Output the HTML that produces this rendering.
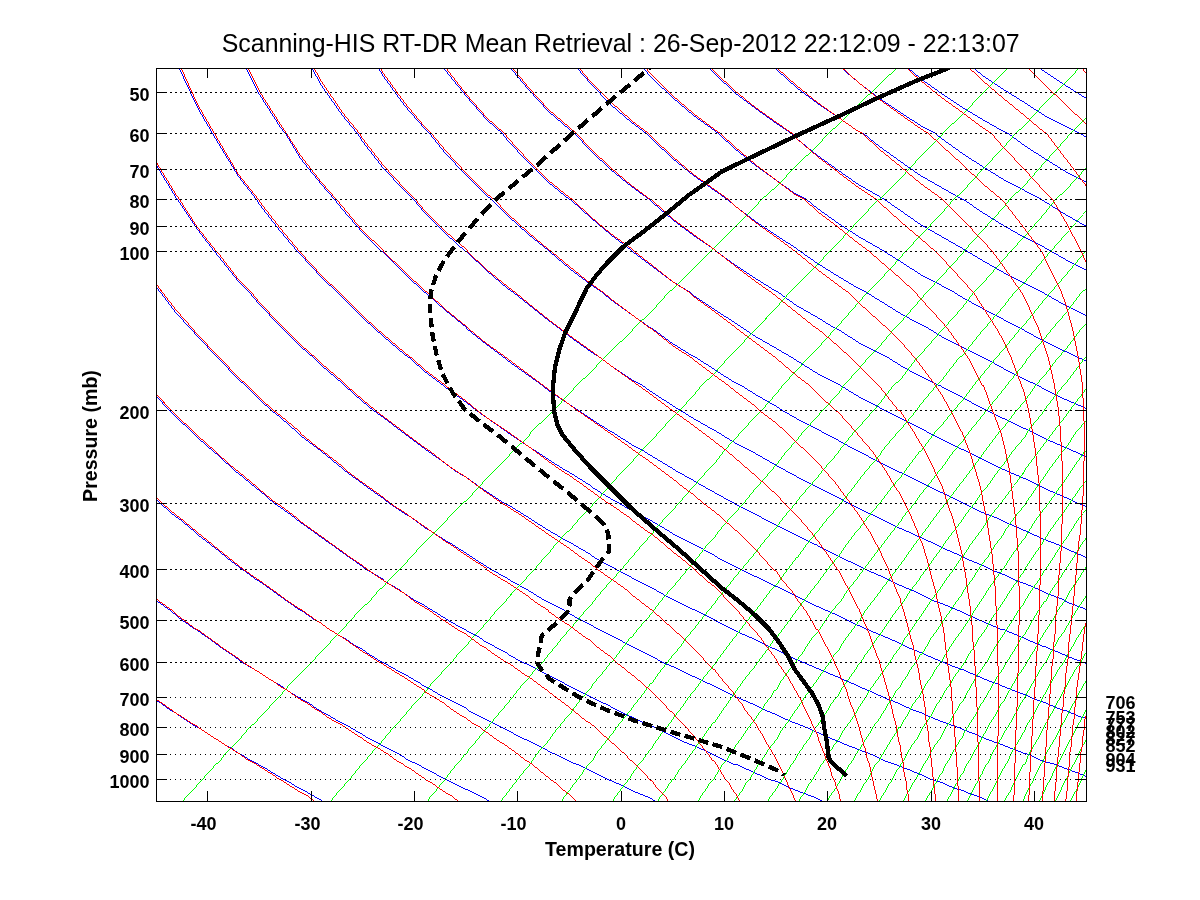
<!DOCTYPE html>
<html lang="en"><head><meta charset="utf-8"><title>Scanning-HIS RT-DR Mean Retrieval</title>
<style>html,body{margin:0;padding:0;background:#fff}body{width:1200px;height:900px;position:relative;overflow:hidden}</style>
</head><body>
<svg width="1200" height="900" viewBox="0 0 1200 900" style="position:absolute;left:0;top:0">
<defs><clipPath id="ax"><rect x="157" y="69" width="929" height="732"/></clipPath></defs>
<g clip-path="url(#ax)" stroke="none" shape-rendering="crispEdges">
<path fill="#0000ff" d="M156,700h1v1h-1ZM322,801h1v1h-1ZM156.5,700 161.5,703 170.5,710 176.5,713 180.5,716 189.5,722 197.5,727 198.5,727 207.5,733 216.5,739 218.5,740 224.5,744 233.5,749 238.5,753 241.5,754 250.5,760 258.5,764 259.5,765 267.5,769 275.5,774 280.5,777 283.5,779 291.5,783 299.5,788 300.5,788 307.5,792 314.5,796 321.5,800 322.5,801 322.5,802 321.5,801 314.5,797 307.5,793 300.5,789 299.5,789 291.5,784 283.5,780 280.5,778 275.5,775 267.5,770 259.5,766 258.5,765 250.5,761 241.5,755 238.5,754 233.5,750 224.5,745 218.5,741 216.5,740 207.5,734 198.5,728 197.5,728 189.5,723 180.5,717 176.5,714 170.5,711 161.5,704 156.5,701ZM156,600h1v1h-1ZM489,801h1v1h-1ZM156.5,600 157.5,601 170.5,610 176.5,615 182.5,620 195.5,629 197.5,630 207.5,637 218.5,645 219.5,646 231.5,654 238.5,659 242.5,662 254.5,669 259.5,672 265.5,676 276.5,683 280.5,685 287.5,690 298.5,697 300.5,698 309.5,703 319.5,710 321.5,711 330.5,716 340.5,722 342.5,723 350.5,727 360.5,733 362.5,734 370.5,739 380.5,744 383.5,746 389.5,749 399.5,754 404.5,757 408.5,760 418.5,764 424.5,768 427.5,769 436.5,774 445.5,779 454.5,783 463.5,788 466.5,789 472.5,792 480.5,796 486.5,799 489.5,801 489.5,802 486.5,800 480.5,797 472.5,793 466.5,790 463.5,789 454.5,784 445.5,780 436.5,775 427.5,770 424.5,769 418.5,765 408.5,761 404.5,758 399.5,755 389.5,750 383.5,747 380.5,745 370.5,740 362.5,735 360.5,734 350.5,728 342.5,724 340.5,723 330.5,717 321.5,712 319.5,711 309.5,704 300.5,699 298.5,698 287.5,691 280.5,686 276.5,684 265.5,677 259.5,673 254.5,670 242.5,663 238.5,660 231.5,655 219.5,647 218.5,646 207.5,638 197.5,631 195.5,630 182.5,621 176.5,616 170.5,611 157.5,602 156.5,601ZM156,499h1v1h-1ZM655,801h1v1h-1ZM156.5,499 160.5,503 176.5,517 177.5,517 194.5,531 197.5,534 210.5,544 218.5,550 226.5,557 238.5,566 242.5,569 257.5,580 259.5,581 272.5,590 280.5,596 287.5,601 300.5,610 301.5,610 315.5,620 321.5,623 329.5,629 342.5,637 343.5,637 356.5,646 362.5,649 369.5,654 382.5,662 383.5,662 395.5,669 404.5,674 408.5,676 420.5,683 424.5,686 432.5,690 444.5,697 445.5,697 456.5,703 466.5,708 468.5,710 479.5,716 486.5,719 491.5,722 502.5,727 507.5,730 513.5,733 524.5,739 528.5,740 535.5,744 546.5,749 548.5,751 556.5,754 567.5,760 569.5,761 577.5,764 587.5,769 590.5,770 597.5,774 607.5,779 610.5,780 617.5,783 627.5,788 631.5,790 636.5,792 646.5,796 652.5,799 655.5,801 655.5,802 652.5,800 646.5,797 636.5,793 631.5,791 627.5,789 617.5,784 610.5,781 607.5,780 597.5,775 590.5,771 587.5,770 577.5,765 569.5,762 567.5,761 556.5,755 548.5,752 546.5,750 535.5,745 528.5,741 524.5,740 513.5,734 507.5,731 502.5,728 491.5,723 486.5,720 479.5,717 468.5,711 466.5,709 456.5,704 445.5,698 444.5,698 432.5,691 424.5,687 420.5,684 408.5,677 404.5,675 395.5,670 383.5,663 382.5,663 369.5,655 362.5,650 356.5,647 343.5,638 342.5,638 329.5,630 321.5,624 315.5,621 301.5,611 300.5,611 287.5,602 280.5,597 272.5,591 259.5,582 257.5,581 242.5,570 238.5,567 226.5,558 218.5,551 210.5,545 197.5,535 194.5,532 177.5,518 176.5,518 160.5,504 156.5,500ZM156,396h1v1h-1ZM169,410h1v1h-1ZM383,579h1v1h-1ZM383,580h1v1h-1ZM822,801h1v1h-1ZM157,396.5 170,410.5 169,410.5 156,396.5ZM169.5,410 176.5,417 191.5,431 197.5,437 213.5,451 218.5,455 234.5,470 238.5,473 255.5,487 259.5,490 274.5,503 280.5,507 294.5,517 300.5,522 313.5,531 321.5,537 331.5,544 342.5,552 349.5,557 362.5,566 366.5,569 383.5,579 383.5,580 366.5,570 362.5,567 349.5,558 342.5,553 331.5,545 321.5,538 313.5,532 300.5,523 294.5,518 280.5,508 274.5,504 259.5,491 255.5,488 238.5,474 234.5,471 218.5,456 213.5,452 197.5,438 191.5,432 176.5,418 169.5,411ZM384,579.5 384,580.5 383,580.5 383,579.5ZM383.5,580 400.5,590 404.5,593 416.5,601 424.5,605 432.5,610 445.5,618 448.5,620 464.5,629 466.5,630 479.5,637 486.5,642 494.5,646 507.5,653 508.5,654 522.5,662 528.5,664 537.5,669 548.5,675 550.5,676 564.5,683 569.5,686 577.5,690 590.5,696 591.5,697 604.5,703 610.5,706 617.5,710 629.5,716 631.5,716 642.5,722 652.5,726 654.5,727 666.5,733 672.5,736 678.5,739 690.5,744 693.5,745 702.5,749 713.5,754 714.5,755 725.5,760 734.5,764 736.5,764 747.5,769 755.5,773 758.5,774 769.5,779 776.5,781 780.5,783 791.5,788 796.5,790 801.5,792 812.5,796 817.5,798 822.5,801 822.5,802 817.5,799 812.5,797 801.5,793 796.5,791 791.5,789 780.5,784 776.5,782 769.5,780 758.5,775 755.5,774 747.5,770 736.5,765 734.5,765 725.5,761 714.5,756 713.5,755 702.5,750 693.5,746 690.5,745 678.5,740 672.5,737 666.5,734 654.5,728 652.5,727 642.5,723 631.5,717 629.5,717 617.5,711 610.5,707 604.5,704 591.5,698 590.5,697 577.5,691 569.5,687 564.5,684 550.5,677 548.5,676 537.5,670 528.5,665 522.5,663 508.5,655 507.5,654 494.5,647 486.5,643 479.5,638 466.5,631 464.5,630 448.5,621 445.5,619 432.5,611 424.5,606 416.5,602 404.5,594 400.5,591 383.5,581ZM156,287h1v1h-1ZM238,379h1v1h-1ZM989,801h1v1h-1ZM157,287.5 161,292.5 177,313.5 191,328.5 198,336.5 219,358.5 239,379.5 238,379.5 218,358.5 197,336.5 190,328.5 176,313.5 160,292.5 156,287.5ZM238.5,379 245.5,385 259.5,399 271.5,410 280.5,417 296.5,431 300.5,435 321.5,451 342.5,468 344.5,470 362.5,483 367.5,487 383.5,498 389.5,503 404.5,513 411.5,517 424.5,527 431.5,531 445.5,540 452.5,544 466.5,553 472.5,557 486.5,566 491.5,569 507.5,578 510.5,580 528.5,590 546.5,601 548.5,602 564.5,610 569.5,613 581.5,620 590.5,624 598.5,629 610.5,635 615.5,637 631.5,646 647.5,654 652.5,656 662.5,662 672.5,666 678.5,669 693.5,676 708.5,683 714.5,686 723.5,690 734.5,696 737.5,697 751.5,703 755.5,705 765.5,710 776.5,714 779.5,716 793.5,722 796.5,723 806.5,727 817.5,732 819.5,733 833.5,739 838.5,741 845.5,744 858.5,749 871.5,754 879.5,758 883.5,760 895.5,764 900.5,766 908.5,769 920.5,774 931.5,779 941.5,782 943.5,783 955.5,788 962.5,790 966.5,792 978.5,796 982.5,798 989.5,801 989.5,802 982.5,799 978.5,797 966.5,793 962.5,791 955.5,789 943.5,784 941.5,783 931.5,780 920.5,775 908.5,770 900.5,767 895.5,765 883.5,761 879.5,759 871.5,755 858.5,750 845.5,745 838.5,742 833.5,740 819.5,734 817.5,733 806.5,728 796.5,724 793.5,723 779.5,717 776.5,715 765.5,711 755.5,706 751.5,704 737.5,698 734.5,697 723.5,691 714.5,687 708.5,684 693.5,677 678.5,670 672.5,667 662.5,663 652.5,657 647.5,655 631.5,647 615.5,638 610.5,636 598.5,630 590.5,625 581.5,621 569.5,614 564.5,611 548.5,603 546.5,602 528.5,591 510.5,581 507.5,579 491.5,570 486.5,567 472.5,558 466.5,554 452.5,545 445.5,541 431.5,532 424.5,528 411.5,518 404.5,514 389.5,504 383.5,499 367.5,488 362.5,484 344.5,471 342.5,469 321.5,452 300.5,436 296.5,432 280.5,418 271.5,411 259.5,400 245.5,386 238.5,380ZM156,165h1v1h-1ZM176,198h1v1h-1ZM177,199h1v1h-1ZM238,281h1v1h-1ZM249,292h1v1h-1ZM280,326h1v1h-1ZM714,619h1v1h-1ZM714,620h1v1h-1ZM1086,776h1v1h-1ZM157,165.5 177,198.5 176,198.5 156,165.5ZM176.5,198 177.5,199 177.5,200 176.5,199ZM178,199.5 198,229.5 215,251.5 219,256.5 239,281.5 238,281.5 218,256.5 214,251.5 197,229.5 177,199.5ZM238.5,281 249.5,292 249.5,293 238.5,282ZM250,292.5 260,304.5 281,326.5 280,326.5 259,304.5 249,292.5ZM280.5,326 282.5,328 300.5,346 314.5,358 321.5,365 342.5,383 344.5,385 362.5,401 373.5,410 383.5,417 401.5,431 404.5,433 424.5,448 428.5,451 445.5,463 454.5,470 466.5,477 480.5,487 486.5,491 504.5,503 507.5,504 528.5,517 548.5,530 550.5,531 569.5,542 573.5,544 590.5,554 594.5,557 610.5,566 616.5,569 631.5,577 636.5,580 652.5,588 656.5,590 672.5,599 676.5,601 693.5,609 695.5,610 714.5,619 714.5,620 695.5,611 693.5,610 676.5,602 672.5,600 656.5,591 652.5,589 636.5,581 631.5,578 616.5,570 610.5,567 594.5,558 590.5,555 573.5,545 569.5,543 550.5,532 548.5,531 528.5,518 507.5,505 504.5,504 486.5,492 480.5,488 466.5,478 454.5,471 445.5,464 428.5,452 424.5,449 404.5,434 401.5,432 383.5,418 373.5,411 362.5,402 344.5,386 342.5,384 321.5,366 314.5,359 300.5,347 282.5,329 280.5,327ZM715,619.5 715,620.5 714,620.5 714,619.5ZM714.5,620 732.5,629 734.5,630 750.5,637 755.5,639 768.5,646 776.5,649 785.5,654 796.5,659 803.5,662 817.5,668 819.5,669 836.5,676 838.5,677 852.5,683 858.5,686 868.5,690 879.5,695 883.5,697 899.5,703 900.5,704 914.5,710 920.5,712 929.5,716 941.5,721 944.5,722 958.5,727 962.5,729 973.5,733 982.5,737 987.5,739 1001.5,744 1003.5,745 1014.5,749 1024.5,753 1028.5,754 1041.5,760 1044.5,761 1055.5,764 1065.5,768 1068.5,769 1081.5,774 1086.5,776 1086.5,777 1081.5,775 1068.5,770 1065.5,769 1055.5,765 1044.5,762 1041.5,761 1028.5,755 1024.5,754 1014.5,750 1003.5,746 1001.5,745 987.5,740 982.5,738 973.5,734 962.5,730 958.5,728 944.5,723 941.5,722 929.5,717 920.5,713 914.5,711 900.5,705 899.5,704 883.5,698 879.5,696 868.5,691 858.5,687 852.5,684 838.5,678 836.5,677 819.5,670 817.5,669 803.5,663 796.5,660 785.5,655 776.5,650 768.5,647 755.5,640 750.5,638 734.5,631 732.5,630 714.5,621ZM169,40h1v1h-1ZM297,251h1v1h-1ZM300,254h1v1h-1ZM321,277h1v1h-1ZM1086,718h1v1h-1ZM170,40.5 177,62.5 198,107.5 213,133.5 219,143.5 239,176.5 257,199.5 260,204.5 281,231.5 298,251.5 297,251.5 280,231.5 259,204.5 256,199.5 238,176.5 218,143.5 212,133.5 197,107.5 176,62.5 169,40.5ZM297.5,251 300.5,254 300.5,255 297.5,252ZM301,254.5 322,277.5 321,277.5 300,254.5ZM321.5,277 337.5,292 342.5,297 362.5,317 374.5,328 383.5,336 404.5,354 410.5,358 424.5,371 443.5,385 445.5,387 466.5,402 476.5,410 486.5,417 506.5,431 507.5,432 528.5,446 536.5,451 548.5,459 565.5,470 569.5,472 590.5,485 592.5,487 610.5,498 619.5,503 631.5,510 644.5,517 652.5,521 669.5,531 672.5,533 693.5,544 694.5,544 714.5,555 717.5,557 734.5,566 740.5,569 755.5,576 763.5,580 776.5,586 784.5,590 796.5,596 806.5,601 817.5,606 826.5,610 838.5,615 847.5,620 858.5,625 867.5,629 879.5,634 886.5,637 900.5,643 905.5,646 920.5,652 924.5,654 941.5,661 943.5,662 961.5,669 962.5,669 978.5,676 982.5,678 996.5,683 1003.5,686 1013.5,690 1024.5,694 1030.5,697 1044.5,702 1046.5,703 1063.5,710 1065.5,710 1079.5,716 1086.5,718 1086.5,719 1079.5,717 1065.5,711 1063.5,711 1046.5,704 1044.5,703 1030.5,698 1024.5,695 1013.5,691 1003.5,687 996.5,684 982.5,679 978.5,677 962.5,670 961.5,670 943.5,663 941.5,662 924.5,655 920.5,653 905.5,647 900.5,644 886.5,638 879.5,635 867.5,630 858.5,626 847.5,621 838.5,616 826.5,611 817.5,607 806.5,602 796.5,597 784.5,591 776.5,587 763.5,581 755.5,577 740.5,570 734.5,567 717.5,558 714.5,556 694.5,545 693.5,545 672.5,534 669.5,532 652.5,522 644.5,518 631.5,511 619.5,504 610.5,499 592.5,488 590.5,486 569.5,473 565.5,471 548.5,460 536.5,452 528.5,447 507.5,433 506.5,432 486.5,418 476.5,411 466.5,403 445.5,388 443.5,386 424.5,372 410.5,359 404.5,355 383.5,337 374.5,329 362.5,318 342.5,298 337.5,293 321.5,278ZM238,53h1v1h-1ZM362,232h1v1h-1ZM466,327h1v1h-1ZM466,328h1v1h-1ZM1086,663h1v1h-1ZM239,53.5 260,94.5 281,127.5 286,133.5 301,158.5 322,184.5 335,199.5 343,209.5 363,232.5 362,232.5 342,209.5 334,199.5 321,184.5 300,158.5 285,133.5 280,127.5 259,94.5 238,53.5ZM362.5,232 381.5,251 383.5,252 404.5,273 424.5,292 425.5,292 445.5,310 466.5,327 466.5,328 445.5,311 425.5,293 424.5,293 404.5,274 383.5,253 381.5,252 362.5,233ZM467,327.5 467,328.5 466,328.5 466,327.5ZM466.5,328 486.5,344 505.5,358 507.5,360 528.5,375 542.5,385 548.5,390 569.5,404 578.5,410 590.5,418 610.5,431 611.5,431 631.5,444 644.5,451 652.5,456 672.5,468 675.5,470 693.5,480 705.5,487 714.5,492 734.5,503 755.5,514 761.5,517 776.5,525 788.5,531 796.5,535 815.5,544 817.5,545 838.5,556 840.5,557 858.5,565 865.5,569 879.5,575 889.5,580 900.5,585 912.5,590 920.5,594 935.5,601 941.5,603 958.5,610 962.5,612 980.5,620 982.5,621 1001.5,629 1003.5,629 1022.5,637 1024.5,638 1043.5,646 1044.5,646 1063.5,654 1065.5,655 1083.5,662 1086.5,663 1086.5,664 1083.5,663 1065.5,656 1063.5,655 1044.5,647 1043.5,647 1024.5,639 1022.5,638 1003.5,630 1001.5,630 982.5,622 980.5,621 962.5,613 958.5,611 941.5,604 935.5,602 920.5,595 912.5,591 900.5,586 889.5,581 879.5,576 865.5,570 858.5,566 840.5,558 838.5,557 817.5,546 815.5,545 796.5,536 788.5,532 776.5,526 761.5,518 755.5,515 734.5,504 714.5,493 705.5,488 693.5,481 675.5,471 672.5,469 652.5,457 644.5,452 631.5,445 611.5,432 610.5,432 590.5,419 578.5,411 569.5,405 548.5,391 542.5,386 528.5,376 507.5,361 505.5,359 486.5,345 466.5,329ZM300,47h1v1h-1ZM404,190h1v1h-1ZM413,199h1v1h-1ZM424,212h1v1h-1ZM1065,600h1v1h-1ZM1065,601h1v1h-1ZM1086,609h1v1h-1ZM301,47.5 322,85.5 343,115.5 358,133.5 363,141.5 384,168.5 405,190.5 404,190.5 383,168.5 362,141.5 357,133.5 342,115.5 321,85.5 300,47.5ZM404.5,190 413.5,199 413.5,200 404.5,191ZM414,199.5 425,212.5 424,212.5 413,199.5ZM424.5,212 445.5,233 465.5,251 466.5,251 486.5,270 507.5,288 513.5,292 528.5,304 548.5,320 559.5,328 569.5,336 590.5,351 601.5,358 610.5,365 631.5,379 642.5,385 652.5,392 672.5,405 680.5,410 693.5,418 714.5,430 716.5,431 734.5,442 751.5,451 755.5,453 776.5,465 785.5,470 796.5,476 817.5,487 838.5,497 848.5,503 858.5,508 878.5,517 879.5,518 900.5,528 907.5,531 920.5,537 936.5,544 941.5,547 962.5,556 963.5,557 982.5,565 990.5,569 1003.5,574 1015.5,580 1024.5,583 1041.5,590 1044.5,592 1065.5,600 1065.5,601 1044.5,593 1041.5,591 1024.5,584 1015.5,581 1003.5,575 990.5,570 982.5,566 963.5,558 962.5,557 941.5,548 936.5,545 920.5,538 907.5,532 900.5,529 879.5,519 878.5,518 858.5,509 848.5,504 838.5,498 817.5,488 796.5,477 785.5,471 776.5,466 755.5,454 751.5,452 734.5,443 716.5,432 714.5,431 693.5,419 680.5,411 672.5,406 652.5,393 642.5,386 631.5,380 610.5,366 601.5,359 590.5,352 569.5,337 559.5,329 548.5,321 528.5,305 513.5,293 507.5,289 486.5,271 466.5,252 465.5,252 445.5,234 424.5,213ZM1066,600.5 1066,601.5 1065,601.5 1065,600.5ZM1065.5,601 1086.5,609 1086.5,610 1065.5,602ZM362,41h1v1h-1ZM424,128h1v1h-1ZM429,133h1v1h-1ZM466,175h1v1h-1ZM1086,557h1v1h-1ZM363,41.5 384,76.5 405,105.5 425,128.5 424,128.5 404,105.5 383,76.5 362,41.5ZM424.5,128 429.5,133 429.5,134 424.5,129ZM430,133.5 446,153.5 467,175.5 466,175.5 445,153.5 429,133.5ZM466.5,175 486.5,195 491.5,199 507.5,215 528.5,234 548.5,250 549.5,251 569.5,268 590.5,284 602.5,292 610.5,299 631.5,314 651.5,328 652.5,328 672.5,343 693.5,356 697.5,358 714.5,369 734.5,382 741.5,385 755.5,394 776.5,406 782.5,410 796.5,418 817.5,429 821.5,431 838.5,440 858.5,451 859.5,451 879.5,462 895.5,470 900.5,472 920.5,482 930.5,487 941.5,492 962.5,502 963.5,503 982.5,512 995.5,517 1003.5,521 1024.5,530 1026.5,531 1044.5,539 1057.5,544 1065.5,548 1086.5,557 1086.5,558 1065.5,549 1057.5,545 1044.5,540 1026.5,532 1024.5,531 1003.5,522 995.5,518 982.5,513 963.5,504 962.5,503 941.5,493 930.5,488 920.5,483 900.5,473 895.5,471 879.5,463 859.5,452 858.5,452 838.5,441 821.5,432 817.5,430 796.5,419 782.5,411 776.5,407 755.5,395 741.5,386 734.5,383 714.5,370 697.5,359 693.5,357 672.5,344 652.5,329 651.5,329 631.5,315 610.5,300 602.5,293 590.5,285 569.5,269 549.5,252 548.5,251 528.5,235 507.5,216 491.5,200 486.5,196 466.5,176ZM426,40h1v1h-1ZM486,119h1v1h-1ZM502,133h1v1h-1ZM528,162h1v1h-1ZM1086,506h1v1h-1ZM427,40.5 446,70.5 467,96.5 487,119.5 486,119.5 466,96.5 445,70.5 426,40.5ZM486.5,119 502.5,133 502.5,134 486.5,120ZM503,133.5 508,140.5 529,162.5 528,162.5 507,140.5 502,133.5ZM528.5,162 548.5,182 569.5,199 570.5,199 590.5,217 610.5,234 631.5,250 632.5,251 652.5,266 672.5,281 690.5,292 693.5,295 714.5,309 734.5,322 743.5,328 755.5,336 776.5,348 793.5,358 796.5,360 817.5,373 838.5,384 840.5,385 858.5,396 879.5,407 884.5,410 900.5,418 920.5,428 926.5,431 941.5,439 962.5,449 967.5,451 982.5,459 1003.5,469 1005.5,470 1024.5,478 1042.5,487 1044.5,488 1065.5,497 1078.5,503 1086.5,506 1086.5,507 1078.5,504 1065.5,498 1044.5,489 1042.5,488 1024.5,479 1005.5,471 1003.5,470 982.5,460 967.5,452 962.5,450 941.5,440 926.5,432 920.5,429 900.5,419 884.5,411 879.5,408 858.5,397 840.5,386 838.5,385 817.5,374 796.5,361 793.5,359 776.5,349 755.5,337 743.5,329 734.5,323 714.5,310 693.5,296 690.5,293 672.5,282 652.5,267 632.5,252 631.5,251 610.5,235 590.5,218 570.5,200 569.5,200 548.5,183 528.5,163ZM490,40h1v1h-1ZM548,111h1v1h-1ZM574,133h1v1h-1ZM590,150h1v1h-1ZM1086,457h1v1h-1ZM491,40.5 508,64.5 529,89.5 549,111.5 548,111.5 528,89.5 507,64.5 490,40.5ZM548.5,111 569.5,129 574.5,133 574.5,134 569.5,130 548.5,112ZM575,133.5 591,150.5 590,150.5 574,133.5ZM590.5,150 610.5,169 631.5,186 649.5,199 652.5,202 672.5,219 693.5,235 714.5,249 716.5,251 734.5,264 755.5,278 776.5,291 778.5,292 796.5,305 817.5,317 835.5,328 838.5,329 858.5,342 879.5,353 889.5,358 900.5,365 920.5,376 939.5,385 941.5,386 962.5,397 982.5,408 986.5,410 1003.5,418 1024.5,428 1031.5,431 1044.5,438 1065.5,447 1074.5,451 1086.5,457 1086.5,458 1074.5,452 1065.5,448 1044.5,439 1031.5,432 1024.5,429 1003.5,419 986.5,411 982.5,409 962.5,398 941.5,387 939.5,386 920.5,377 900.5,366 889.5,359 879.5,354 858.5,343 838.5,330 835.5,329 817.5,318 796.5,306 778.5,293 776.5,292 755.5,279 734.5,265 716.5,252 714.5,250 693.5,236 672.5,220 652.5,203 649.5,200 631.5,187 610.5,170 590.5,151ZM569,59h1v1h-1ZM610,104h1v1h-1ZM1086,408h1v1h-1ZM570,59.5 591,83.5 611,104.5 610,104.5 590,83.5 569,59.5ZM610.5,104 631.5,122 646.5,133 652.5,139 672.5,158 693.5,175 714.5,190 727.5,199 734.5,205 755.5,221 776.5,235 796.5,248 800.5,251 817.5,263 838.5,276 858.5,288 866.5,292 879.5,300 900.5,313 920.5,324 928.5,328 941.5,336 962.5,347 982.5,357 985.5,358 1003.5,368 1024.5,379 1038.5,385 1044.5,389 1065.5,399 1086.5,408 1086.5,409 1065.5,400 1044.5,390 1038.5,386 1024.5,380 1003.5,369 985.5,359 982.5,358 962.5,348 941.5,337 928.5,329 920.5,325 900.5,314 879.5,301 866.5,293 858.5,289 838.5,277 817.5,264 800.5,252 796.5,249 776.5,236 755.5,222 734.5,206 727.5,200 714.5,191 693.5,176 672.5,159 652.5,140 646.5,134 631.5,123 610.5,105ZM631,55h1v1h-1ZM652,78h1v1h-1ZM1086,361h1v1h-1ZM632,55.5 653,78.5 652,78.5 631,55.5ZM652.5,78 672.5,97 693.5,115 714.5,130 718.5,133 734.5,148 755.5,165 776.5,180 796.5,194 806.5,199 817.5,208 838.5,223 858.5,236 879.5,248 884.5,251 900.5,261 920.5,274 941.5,285 954.5,292 962.5,297 982.5,308 1003.5,319 1020.5,328 1024.5,330 1044.5,341 1065.5,351 1080.5,358 1086.5,361 1086.5,362 1080.5,359 1065.5,352 1044.5,342 1024.5,331 1020.5,329 1003.5,320 982.5,309 962.5,298 954.5,293 941.5,286 920.5,275 900.5,262 884.5,252 879.5,249 858.5,237 838.5,224 817.5,209 806.5,200 796.5,195 776.5,181 755.5,166 734.5,149 718.5,134 714.5,131 693.5,116 672.5,98 652.5,79ZM693,51h1v1h-1ZM714,73h1v1h-1ZM1086,315h1v1h-1ZM694,51.5 715,73.5 714,73.5 693,51.5ZM714.5,73 734.5,92 755.5,108 776.5,123 791.5,133 796.5,138 817.5,155 838.5,170 858.5,184 879.5,196 884.5,199 900.5,210 920.5,224 941.5,236 962.5,248 967.5,251 982.5,260 1003.5,272 1024.5,283 1043.5,292 1044.5,293 1065.5,305 1086.5,315 1086.5,316 1065.5,306 1044.5,294 1043.5,293 1024.5,284 1003.5,273 982.5,261 967.5,252 962.5,249 941.5,237 920.5,225 900.5,211 884.5,200 879.5,197 858.5,185 838.5,171 817.5,156 796.5,139 791.5,134 776.5,124 755.5,109 734.5,93 714.5,74ZM755,48h1v1h-1ZM1086,270h1v1h-1ZM755.5,48 776.5,69 796.5,87 817.5,103 838.5,117 858.5,131 863.5,133 879.5,146 900.5,161 920.5,175 941.5,187 962.5,199 963.5,199 982.5,212 1003.5,225 1024.5,237 1044.5,247 1051.5,251 1065.5,259 1086.5,270 1086.5,271 1065.5,260 1051.5,252 1044.5,248 1024.5,238 1003.5,226 982.5,213 963.5,200 962.5,200 941.5,188 920.5,176 900.5,162 879.5,147 863.5,134 858.5,132 838.5,118 817.5,104 796.5,88 776.5,70 755.5,49ZM817,45h1v1h-1ZM1086,226h1v1h-1ZM817.5,45 838.5,65 858.5,82 879.5,98 900.5,112 920.5,125 935.5,133 941.5,138 962.5,153 982.5,166 1003.5,179 1024.5,190 1041.5,199 1044.5,201 1065.5,214 1086.5,226 1086.5,227 1065.5,215 1044.5,202 1041.5,200 1024.5,191 1003.5,180 982.5,167 962.5,154 941.5,139 935.5,134 920.5,126 900.5,113 879.5,99 858.5,83 838.5,66 817.5,46ZM900,61h1v1h-1ZM1086,182h1v1h-1ZM900.5,61 920.5,78 941.5,93 962.5,107 982.5,119 1003.5,131 1008.5,133 1024.5,145 1044.5,158 1065.5,171 1086.5,182 1086.5,183 1065.5,172 1044.5,159 1024.5,146 1008.5,134 1003.5,132 982.5,120 962.5,108 941.5,94 920.5,79 900.5,62ZM962,58h1v1h-1ZM1086,137h1v1h-1ZM962.5,58 982.5,75 1003.5,89 1024.5,102 1044.5,115 1065.5,126 1080.5,133 1086.5,137 1086.5,138 1080.5,134 1065.5,127 1044.5,116 1024.5,103 1003.5,90 982.5,76 962.5,59ZM1024,56h1v1h-1ZM1086,98h1v1h-1ZM1024.5,56 1044.5,71 1065.5,85 1086.5,98 1086.5,99 1065.5,86 1044.5,72 1024.5,57Z"/>
<path fill="#00ff00" d="M920,44h1v1h-1ZM828,133h1v1h-1ZM817,145h1v1h-1ZM796,165h1v1h-1ZM776,186h1v1h-1ZM761,199h1v1h-1ZM755,206h1v1h-1ZM668,292h1v1h-1ZM652,310h1v1h-1ZM633,328h1v1h-1ZM631,331h1v1h-1ZM603,358h1v1h-1ZM590,372h1v1h-1ZM576,385h1v1h-1ZM553,410h1v1h-1ZM531,431h1v1h-1ZM528,436h1v1h-1ZM512,451h1v1h-1ZM507,457h1v1h-1ZM486,478h1v1h-1ZM466,500h1v1h-1ZM448,517h1v1h-1ZM445,521h1v1h-1ZM422,544h1v1h-1ZM404,564h1v1h-1ZM388,580h1v1h-1ZM383,586h1v1h-1ZM378,590h1v1h-1ZM369,601h1v1h-1ZM359,610h1v1h-1ZM342,629h1v1h-1ZM334,637h1v1h-1ZM326,646h1v1h-1ZM318,654h1v1h-1ZM311,662h1v1h-1ZM290,683h1v1h-1ZM280,695h1v1h-1ZM272,703h1v1h-1ZM266,710h1v1h-1ZM259,717h1v1h-1ZM255,722h1v1h-1ZM249,727h1v1h-1ZM239,739h1v1h-1ZM224,754h1v1h-1ZM220,760h1v1h-1ZM215,764h1v1h-1ZM211,769h1v1h-1ZM206,774h1v1h-1ZM202,779h1v1h-1ZM197,784h1v1h-1ZM194,788h1v1h-1ZM186,796h1v1h-1ZM182,801h1v1h-1ZM920.5,45 900.5,65 879.5,85 858.5,105 838.5,125 828.5,134 828.5,133 838.5,124 858.5,104 879.5,84 900.5,64 920.5,44ZM829,133.5 818,145.5 817,145.5 828,133.5ZM817.5,146 796.5,166 796.5,165 817.5,145ZM797,165.5 777,186.5 776,186.5 796,165.5ZM776.5,187 761.5,200 761.5,199 776.5,186ZM762,199.5 756,206.5 755,206.5 761,199.5ZM755.5,207 734.5,228 714.5,248 710.5,252 693.5,269 672.5,290 668.5,293 668.5,292 672.5,289 693.5,268 710.5,251 714.5,247 734.5,227 755.5,206ZM669,292.5 653,310.5 652,310.5 668,292.5ZM652.5,311 633.5,329 633.5,328 652.5,310ZM634,328.5 632,331.5 631,331.5 633,328.5ZM631.5,332 610.5,352 603.5,359 603.5,358 610.5,351 631.5,331ZM604,358.5 591,372.5 590,372.5 603,358.5ZM590.5,373 576.5,386 576.5,385 590.5,372ZM577,385.5 570,393.5 554,410.5 553,410.5 569,393.5 576,385.5ZM553.5,411 548.5,416 531.5,432 531.5,431 548.5,415 553.5,410ZM532,431.5 529,436.5 528,436.5 531,431.5ZM528.5,437 512.5,452 512.5,451 528.5,436ZM513,451.5 508,457.5 507,457.5 512,451.5ZM507.5,458 494.5,471 486.5,479 486.5,478 494.5,470 507.5,457ZM487,478.5 479,487.5 467,500.5 466,500.5 478,487.5 486,478.5ZM466.5,501 462.5,504 448.5,518 448.5,517 462.5,503 466.5,500ZM449,517.5 446,521.5 445,521.5 448,517.5ZM445.5,522 435.5,532 424.5,543 422.5,545 422.5,544 424.5,542 435.5,531 445.5,521ZM423,544.5 411,557.5 405,564.5 404,564.5 410,557.5 422,544.5ZM404.5,565 399.5,570 388.5,581 388.5,580 399.5,569 404.5,564ZM389,580.5 384,586.5 383,586.5 388,580.5ZM383.5,587 378.5,591 378.5,590 383.5,586ZM379,590.5 370,601.5 369,601.5 378,590.5ZM369.5,602 362.5,608 359.5,611 359.5,610 362.5,607 369.5,601ZM360,610.5 351,620.5 343,629.5 342,629.5 350,620.5 359,610.5ZM342.5,630 334.5,638 334.5,637 342.5,629ZM335,637.5 327,646.5 326,646.5 334,637.5ZM326.5,647 321.5,652 318.5,655 318.5,654 321.5,651 326.5,646ZM319,654.5 312,662.5 311,662.5 318,654.5ZM311.5,663 304.5,670 300.5,674 297.5,677 290.5,684 290.5,683 297.5,676 300.5,673 304.5,669 311.5,662ZM291,683.5 285,690.5 281,695.5 280,695.5 284,690.5 290,683.5ZM280.5,696 278.5,698 272.5,704 272.5,703 278.5,697 280.5,695ZM273,703.5 267,710.5 266,710.5 272,703.5ZM266.5,711 260.5,717 259.5,718 259.5,717 260.5,716 266.5,710ZM260,717.5 256,722.5 255,722.5 259,717.5ZM255.5,723 249.5,728 249.5,727 255.5,722ZM250,727.5 245,733.5 240,739.5 239,739.5 244,733.5 249,727.5ZM239.5,740 238.5,741 234.5,745 229.5,750 224.5,755 224.5,754 229.5,749 234.5,744 238.5,740 239.5,739ZM225,754.5 221,760.5 220,760.5 224,754.5ZM220.5,761 218.5,763 215.5,765 215.5,764 218.5,762 220.5,760ZM216,764.5 212,769.5 211,769.5 215,764.5ZM211.5,770 206.5,775 206.5,774 211.5,769ZM207,774.5 203,779.5 202,779.5 206,774.5ZM202.5,780 198.5,784 197.5,785 197.5,784 198.5,783 202.5,779ZM198,784.5 195,788.5 194,788.5 197,784.5ZM194.5,789 190.5,793 186.5,797 186.5,796 190.5,792 194.5,788ZM187,796.5 183,801.5 182,801.5 186,796.5ZM1024,50h1v1h-1ZM1003,72h1v1h-1ZM982,93h1v1h-1ZM962,114h1v1h-1ZM942,133h1v1h-1ZM941,135h1v1h-1ZM920,156h1v1h-1ZM900,178h1v1h-1ZM878,199h1v1h-1ZM838,242h1v1h-1ZM829,251h1v1h-1ZM817,264h1v1h-1ZM789,292h1v1h-1ZM756,328h1v1h-1ZM755,329h1v1h-1ZM734,351h1v1h-1ZM727,358h1v1h-1ZM714,373h1v1h-1ZM701,385h1v1h-1ZM679,410h1v1h-1ZM672,417h1v1h-1ZM652,439h1v1h-1ZM640,451h1v1h-1ZM631,462h1v1h-1ZM623,470h1v1h-1ZM590,507h1v1h-1ZM580,517h1v1h-1ZM569,530h1v1h-1ZM567,531h1v1h-1ZM548,553h1v1h-1ZM544,557h1v1h-1ZM534,569h1v1h-1ZM528,575h1v1h-1ZM524,580h1v1h-1ZM514,590h1v1h-1ZM505,601h1v1h-1ZM496,610h1v1h-1ZM488,620h1v1h-1ZM486,622h1v1h-1ZM480,629h1v1h-1ZM472,637h1v1h-1ZM466,645h1v1h-1ZM457,654h1v1h-1ZM451,662h1v1h-1ZM444,669h1v1h-1ZM438,676h1v1h-1ZM431,683h1v1h-1ZM426,690h1v1h-1ZM424,692h1v1h-1ZM420,697h1v1h-1ZM414,703h1v1h-1ZM404,715h1v1h-1ZM403,716h1v1h-1ZM398,722h1v1h-1ZM393,727h1v1h-1ZM379,744h1v1h-1ZM374,749h1v1h-1ZM365,760h1v1h-1ZM361,764h1v1h-1ZM349,779h1v1h-1ZM345,783h1v1h-1ZM342,787h1v1h-1ZM337,792h1v1h-1ZM330,801h1v1h-1ZM1025,50.5 1004,72.5 1003,72.5 1024,50.5ZM1003.5,73 982.5,94 982.5,93 1003.5,72ZM983,93.5 963,114.5 962,114.5 982,93.5ZM962.5,115 942.5,134 942.5,133 962.5,114ZM943,133.5 942,135.5 941,135.5 942,133.5ZM941.5,136 920.5,157 920.5,156 941.5,135ZM921,156.5 901,178.5 900,178.5 920,156.5ZM900.5,179 879.5,200 878.5,200 878.5,199 879.5,199 900.5,178ZM879,199.5 859,220.5 839,242.5 838,242.5 858,220.5 878,199.5ZM838.5,243 829.5,252 829.5,251 838.5,242ZM830,251.5 818,264.5 817,264.5 829,251.5ZM817.5,265 796.5,286 789.5,293 789.5,292 796.5,285 817.5,264ZM790,292.5 777,307.5 757,328.5 756,328.5 776,307.5 789,292.5ZM756.5,329 755.5,330 755.5,329 756.5,328ZM756,329.5 735,351.5 734,351.5 755,329.5ZM734.5,352 727.5,359 727.5,358 734.5,351ZM728,358.5 715,373.5 714,373.5 727,358.5ZM714.5,374 701.5,386 701.5,385 714.5,373ZM702,385.5 694,395.5 680,410.5 679,410.5 693,395.5 701,385.5ZM679.5,411 672.5,418 672.5,417 679.5,410ZM673,417.5 660,431.5 653,439.5 652,439.5 659,431.5 672,417.5ZM652.5,440 640.5,452 640.5,451 652.5,439ZM641,451.5 632,462.5 631,462.5 640,451.5ZM631.5,463 623.5,471 623.5,470 631.5,462ZM624,470.5 611,484.5 609,487.5 594,503.5 591,507.5 590,507.5 593,503.5 608,487.5 610,484.5 623,470.5ZM590.5,508 580.5,518 580.5,517 590.5,507ZM581,517.5 570,530.5 569,530.5 580,517.5ZM569.5,531 567.5,532 567.5,531 569.5,530ZM568,531.5 556,544.5 549,553.5 548,553.5 555,544.5 567,531.5ZM548.5,554 544.5,558 544.5,557 548.5,553ZM545,557.5 535,569.5 534,569.5 544,557.5ZM534.5,570 528.5,576 528.5,575 534.5,569ZM529,575.5 525,580.5 524,580.5 528,575.5ZM524.5,581 514.5,591 514.5,590 524.5,580ZM515,590.5 508,598.5 506,601.5 505,601.5 507,598.5 514,590.5ZM505.5,602 496.5,611 496.5,610 505.5,601ZM497,610.5 489,620.5 488,620.5 496,610.5ZM488.5,621 486.5,623 486.5,622 488.5,620ZM487,622.5 481,629.5 480,629.5 486,622.5ZM480.5,630 472.5,638 472.5,637 480.5,629ZM473,637.5 467,645.5 466,645.5 472,637.5ZM466.5,646 465.5,647 457.5,655 457.5,654 465.5,646 466.5,645ZM458,654.5 452,662.5 451,662.5 457,654.5ZM451.5,663 445.5,669 444.5,670 444.5,669 445.5,668 451.5,662ZM445,669.5 439,676.5 438,676.5 444,669.5ZM438.5,677 431.5,684 431.5,683 438.5,676ZM432,683.5 427,690.5 426,690.5 431,683.5ZM426.5,691 424.5,693 424.5,692 426.5,690ZM425,692.5 421,697.5 420,697.5 424,692.5ZM420.5,698 414.5,704 414.5,703 420.5,697ZM415,703.5 409,710.5 405,715.5 404,715.5 408,710.5 414,703.5ZM404.5,716 403.5,717 403.5,716 404.5,715ZM404,716.5 399,722.5 398,722.5 403,716.5ZM398.5,723 393.5,728 393.5,727 398.5,722ZM394,727.5 389,733.5 384,739.5 380,744.5 379,744.5 383,739.5 388,733.5 393,727.5ZM379.5,745 374.5,750 374.5,749 379.5,744ZM375,749.5 371,754.5 366,760.5 365,760.5 370,754.5 374,749.5ZM365.5,761 362.5,764 361.5,765 361.5,764 362.5,763 365.5,760ZM362,764.5 358,769.5 354,774.5 350,779.5 349,779.5 353,774.5 357,769.5 361,764.5ZM349.5,780 345.5,784 345.5,783 349.5,779ZM346,783.5 343,787.5 342,787.5 345,783.5ZM342.5,788 341.5,789 337.5,793 337.5,792 341.5,788 342.5,787ZM338,792.5 335,796.5 331,801.5 330,801.5 334,796.5 337,792.5ZM1086,60h1v1h-1ZM1065,82h1v1h-1ZM1044,103h1v1h-1ZM1024,125h1v1h-1ZM1015,133h1v1h-1ZM962,191h1v1h-1ZM953,199h1v1h-1ZM879,280h1v1h-1ZM867,292h1v1h-1ZM838,325h1v1h-1ZM835,328h1v1h-1ZM817,348h1v1h-1ZM807,358h1v1h-1ZM761,410h1v1h-1ZM755,416h1v1h-1ZM714,463h1v1h-1ZM707,470h1v1h-1ZM693,486h1v1h-1ZM692,487h1v1h-1ZM672,510h1v1h-1ZM665,517h1v1h-1ZM611,580h1v1h-1ZM610,581h1v1h-1ZM590,605h1v1h-1ZM585,610h1v1h-1ZM542,662h1v1h-1ZM535,669h1v1h-1ZM528,678h1v1h-1ZM523,683h1v1h-1ZM487,727h1v1h-1ZM486,728h1v1h-1ZM473,744h1v1h-1ZM468,749h1v1h-1ZM466,753h1v1h-1ZM464,754h1v1h-1ZM460,760h1v1h-1ZM456,764h1v1h-1ZM445,779h1v1h-1ZM441,783h1v1h-1ZM434,792h1v1h-1ZM430,796h1v1h-1ZM427,801h1v1h-1ZM1087,60.5 1066,82.5 1065,82.5 1086,60.5ZM1065.5,83 1044.5,104 1044.5,103 1065.5,82ZM1045,103.5 1025,125.5 1024,125.5 1044,103.5ZM1024.5,126 1015.5,134 1015.5,133 1024.5,125ZM1016,133.5 1004,147.5 983,169.5 963,191.5 962,191.5 982,169.5 1003,147.5 1015,133.5ZM962.5,192 953.5,200 953.5,199 962.5,191ZM954,199.5 942,213.5 921,235.5 906,251.5 901,257.5 880,280.5 879,280.5 900,257.5 905,251.5 920,235.5 941,213.5 953,199.5ZM879.5,281 867.5,293 867.5,292 879.5,280ZM868,292.5 859,302.5 839,325.5 838,325.5 858,302.5 867,292.5ZM838.5,326 835.5,329 835.5,328 838.5,325ZM836,328.5 818,348.5 817,348.5 835,328.5ZM817.5,349 807.5,359 807.5,358 817.5,348ZM808,358.5 797,370.5 783,385.5 777,393.5 762,410.5 761,410.5 776,393.5 782,385.5 796,370.5 807,358.5ZM761.5,411 755.5,417 755.5,416 761.5,410ZM756,416.5 742,431.5 735,439.5 724,451.5 715,463.5 714,463.5 723,451.5 734,439.5 741,431.5 755,416.5ZM714.5,464 707.5,471 707.5,470 714.5,463ZM708,470.5 694,486.5 693,486.5 707,470.5ZM693.5,487 692.5,488 692.5,487 693.5,486ZM693,487.5 679,503.5 673,510.5 672,510.5 678,503.5 692,487.5ZM672.5,511 665.5,518 665.5,517 672.5,510ZM666,517.5 654,531.5 653,533.5 643,544.5 632,557.5 622,569.5 612,580.5 611,580.5 621,569.5 631,557.5 642,544.5 652,533.5 653,531.5 665,517.5ZM611.5,581 610.5,582 610.5,581 611.5,580ZM611,581.5 603,590.5 594,601.5 591,605.5 590,605.5 593,601.5 602,590.5 610,581.5ZM590.5,606 585.5,611 585.5,610 590.5,605ZM586,610.5 578,620.5 570,629.5 563,637.5 556,646.5 549,654.5 543,662.5 542,662.5 548,654.5 555,646.5 562,637.5 569,629.5 577,620.5 585,610.5ZM542.5,663 535.5,670 535.5,669 542.5,662ZM536,669.5 530,676.5 529,678.5 528,678.5 529,676.5 535,669.5ZM528.5,679 523.5,684 523.5,683 528.5,678ZM524,683.5 518,690.5 513,697.5 508,703.5 502,710.5 497,716.5 492,722.5 488,727.5 487,727.5 491,722.5 496,716.5 501,710.5 507,703.5 512,697.5 517,690.5 523,683.5ZM487.5,728 486.5,729 486.5,728 487.5,727ZM487,728.5 483,733.5 478,739.5 474,744.5 473,744.5 477,739.5 482,733.5 486,728.5ZM473.5,745 468.5,750 468.5,749 473.5,744ZM469,749.5 467,753.5 466,753.5 468,749.5ZM466.5,754 464.5,755 464.5,754 466.5,753ZM465,754.5 461,760.5 460,760.5 464,754.5ZM460.5,761 456.5,765 456.5,764 460.5,760ZM457,764.5 453,769.5 449,774.5 446,778.5 446,779.5 445,779.5 445,778.5 448,774.5 452,769.5 456,764.5ZM445.5,780 441.5,784 441.5,783 445.5,779ZM442,783.5 438,788.5 435,792.5 434,792.5 437,788.5 441,783.5ZM434.5,793 430.5,797 430.5,796 434.5,792ZM431,796.5 428,801.5 427,801.5 430,796.5ZM1086,117h1v1h-1ZM1070,133h1v1h-1ZM1024,185h1v1h-1ZM1009,199h1v1h-1ZM900,322h1v1h-1ZM894,328h1v1h-1ZM879,346h1v1h-1ZM867,358h1v1h-1ZM756,487h1v1h-1ZM755,488h1v1h-1ZM734,513h1v1h-1ZM730,517h1v1h-1ZM714,537h1v1h-1ZM707,544h1v1h-1ZM672,587h1v1h-1ZM669,590h1v1h-1ZM631,637h1v1h-1ZM630,637h1v1h-1ZM611,662h1v1h-1ZM610,662h1v1h-1ZM590,688h1v1h-1ZM588,690h1v1h-1ZM569,714h1v1h-1ZM567,716h1v1h-1ZM549,739h1v1h-1ZM548,740h1v1h-1ZM545,744h1v1h-1ZM540,749h1v1h-1ZM528,766h1v1h-1ZM525,769h1v1h-1ZM500,801h1v1h-1ZM1086.5,118 1070.5,134 1070.5,133 1086.5,117ZM1071,133.5 1066,139.5 1045,162.5 1025,185.5 1024,185.5 1044,162.5 1065,139.5 1070,133.5ZM1024.5,186 1009.5,200 1009.5,199 1024.5,185ZM1010,199.5 1004,207.5 983,230.5 964,251.5 963,253.5 942,276.5 927,292.5 921,299.5 901,322.5 900,322.5 920,299.5 926,292.5 941,276.5 962,253.5 963,251.5 982,230.5 1003,207.5 1009,199.5ZM900.5,323 894.5,329 894.5,328 900.5,322ZM895,328.5 880,346.5 879,346.5 894,328.5ZM879.5,347 867.5,359 867.5,358 879.5,346ZM868,358.5 859,369.5 844,385.5 839,393.5 823,410.5 818,416.5 804,431.5 797,440.5 787,451.5 777,464.5 772,470.5 757,487.5 756,487.5 771,470.5 776,464.5 786,451.5 796,440.5 803,431.5 817,416.5 822,410.5 838,393.5 843,385.5 858,369.5 867,358.5ZM756.5,488 755.5,489 755.5,488 756.5,487ZM756,488.5 744,503.5 735,513.5 734,513.5 743,503.5 755,488.5ZM734.5,514 730.5,518 730.5,517 734.5,513ZM731,517.5 719,531.5 715,537.5 714,537.5 718,531.5 730,517.5ZM714.5,538 707.5,545 707.5,544 714.5,537ZM708,544.5 698,557.5 694,562.5 688,569.5 679,580.5 673,587.5 672,587.5 678,580.5 687,569.5 693,562.5 697,557.5 707,544.5ZM672.5,588 669.5,591 669.5,590 672.5,587ZM670,590.5 661,601.5 654,610.5 653,612.5 646,620.5 638,629.5 632,637.5 631,637.5 637,629.5 645,620.5 652,612.5 653,610.5 660,601.5 669,590.5ZM631.5,638 630.5,638 630.5,637 631.5,637ZM631,637.5 624,646.5 618,654.5 612,662.5 611,662.5 617,654.5 623,646.5 630,637.5ZM611.5,663 610.5,663 610.5,662 611.5,662ZM611,662.5 606,669.5 600,676.5 594,683.5 591,688.5 590,688.5 593,683.5 599,676.5 605,669.5 610,662.5ZM590.5,689 588.5,691 588.5,690 590.5,688ZM589,690.5 583,697.5 578,703.5 573,710.5 570,714.5 569,714.5 572,710.5 577,703.5 582,697.5 588,690.5ZM569.5,715 567.5,717 567.5,716 569.5,714ZM568,716.5 563,722.5 559,727.5 554,733.5 550,739.5 549,739.5 553,733.5 558,727.5 562,722.5 567,716.5ZM549.5,740 548.5,741 548.5,740 549.5,739ZM549,740.5 546,744.5 545,744.5 548,740.5ZM545.5,745 540.5,750 540.5,749 545.5,744ZM541,749.5 537,754.5 533,760.5 530,764.5 529,766.5 528,766.5 529,764.5 532,760.5 536,754.5 540,749.5ZM528.5,767 525.5,770 525.5,769 528.5,766ZM526,769.5 522,774.5 518,779.5 515,783.5 511,788.5 508,792.5 505,796.5 501,801.5 500,801.5 504,796.5 507,792.5 510,788.5 514,783.5 517,779.5 521,774.5 525,769.5ZM1086,167h1v1h-1ZM1065,190h1v1h-1ZM1055,199h1v1h-1ZM982,283h1v1h-1ZM973,292h1v1h-1ZM943,328h1v1h-1ZM941,330h1v1h-1ZM920,354h1v1h-1ZM916,358h1v1h-1ZM900,379h1v1h-1ZM893,385h1v1h-1ZM858,427h1v1h-1ZM854,431h1v1h-1ZM776,527h1v1h-1ZM772,531h1v1h-1ZM673,654h1v1h-1ZM672,655h1v1h-1ZM652,682h1v1h-1ZM650,683h1v1h-1ZM612,733h1v1h-1ZM610,735h1v1h-1ZM592,760h1v1h-1ZM588,764h1v1h-1ZM569,790h1v1h-1ZM567,792h1v1h-1ZM561,801h1v1h-1ZM1087,167.5 1066,190.5 1065,190.5 1086,167.5ZM1065.5,191 1055.5,200 1055.5,199 1065.5,190ZM1056,199.5 1045,213.5 1025,236.5 1011,251.5 1004,259.5 983,283.5 982,283.5 1003,259.5 1010,251.5 1024,236.5 1044,213.5 1055,199.5ZM982.5,284 973.5,293 973.5,292 982.5,283ZM974,292.5 963,307.5 944,328.5 943,328.5 962,307.5 973,292.5ZM943.5,329 941.5,331 941.5,330 943.5,328ZM942,330.5 921,354.5 920,354.5 941,330.5ZM920.5,355 916.5,359 916.5,358 920.5,354ZM917,358.5 901,379.5 900,379.5 916,358.5ZM900.5,380 893.5,386 893.5,385 900.5,379ZM894,385.5 880,403.5 874,410.5 859,427.5 858,427.5 873,410.5 879,403.5 893,385.5ZM858.5,428 854.5,432 854.5,431 858.5,427ZM855,431.5 839,451.5 839,452.5 823,470.5 818,477.5 809,487.5 797,501.5 796,503.5 784,517.5 777,527.5 776,527.5 783,517.5 795,503.5 796,501.5 808,487.5 817,477.5 822,470.5 838,452.5 838,451.5 854,431.5ZM776.5,528 772.5,532 772.5,531 776.5,527ZM773,531.5 762,544.5 756,552.5 752,557.5 742,569.5 735,577.5 733,580.5 725,590.5 716,601.5 715,603.5 709,610.5 701,620.5 694,629.5 687,637.5 681,646.5 674,654.5 673,654.5 680,646.5 686,637.5 693,629.5 700,620.5 708,610.5 714,603.5 715,601.5 724,590.5 732,580.5 734,577.5 741,569.5 751,557.5 755,552.5 761,544.5 772,531.5ZM673.5,655 672.5,656 672.5,655 673.5,654ZM673,655.5 668,662.5 662,669.5 657,676.5 653,682.5 652,682.5 656,676.5 661,669.5 667,662.5 672,655.5ZM652.5,683 650.5,684 650.5,683 652.5,682ZM651,683.5 646,690.5 641,697.5 636,703.5 632,708.5 631,710.5 626,716.5 621,722.5 617,727.5 613,733.5 612,733.5 616,727.5 620,722.5 625,716.5 630,710.5 631,708.5 635,703.5 640,697.5 645,690.5 650,683.5ZM612.5,734 610.5,736 610.5,735 612.5,733ZM611,735.5 608,739.5 604,744.5 600,749.5 596,754.5 593,760.5 592,760.5 595,754.5 599,749.5 603,744.5 607,739.5 610,735.5ZM592.5,761 590.5,763 588.5,765 588.5,764 590.5,762 592.5,760ZM589,764.5 585,769.5 582,774.5 578,779.5 575,783.5 571,788.5 570,790.5 569,790.5 570,788.5 574,783.5 577,779.5 581,774.5 584,769.5 588,764.5ZM569.5,791 567.5,793 567.5,792 569.5,790ZM568,792.5 565,796.5 562,801.5 561,801.5 564,796.5 567,792.5ZM1086,210h1v1h-1ZM1024,282h1v1h-1ZM1014,292h1v1h-1ZM984,328h1v1h-1ZM982,330h1v1h-1ZM962,355h1v1h-1ZM958,358h1v1h-1ZM941,380h1v1h-1ZM936,385h1v1h-1ZM900,429h1v1h-1ZM898,431h1v1h-1ZM797,557h1v1h-1ZM796,557h1v1h-1ZM776,584h1v1h-1ZM770,590h1v1h-1ZM694,690h1v1h-1ZM693,691h1v1h-1ZM652,747h1v1h-1ZM650,749h1v1h-1ZM642,760h1v1h-1ZM638,764h1v1h-1ZM612,801h1v1h-1ZM1087,210.5 1066,234.5 1051,251.5 1045,258.5 1025,282.5 1024,282.5 1044,258.5 1050,251.5 1065,234.5 1086,210.5ZM1024.5,283 1014.5,293 1014.5,292 1024.5,282ZM1015,292.5 1004,306.5 985,328.5 984,328.5 1003,306.5 1014,292.5ZM984.5,329 982.5,331 982.5,330 984.5,328ZM983,330.5 963,355.5 962,355.5 982,330.5ZM962.5,356 958.5,359 958.5,358 962.5,355ZM959,358.5 942,380.5 941,380.5 958,358.5ZM941.5,381 936.5,386 936.5,385 941.5,380ZM937,385.5 921,404.5 917,410.5 901,429.5 900,429.5 916,410.5 920,404.5 936,385.5ZM900.5,430 898.5,432 898.5,431 900.5,429ZM899,431.5 882,451.5 880,455.5 867,470.5 859,480.5 854,487.5 841,503.5 839,506.5 829,517.5 818,531.5 807,544.5 798,557.5 797,557.5 806,544.5 817,531.5 828,517.5 838,506.5 840,503.5 853,487.5 858,480.5 866,470.5 879,455.5 881,451.5 898,431.5ZM797.5,558 796.5,558 796.5,557 797.5,557ZM797,557.5 788,569.5 780,580.5 777,584.5 776,584.5 779,580.5 787,569.5 796,557.5ZM776.5,585 770.5,591 770.5,590 776.5,584ZM771,590.5 763,601.5 756,610.5 748,620.5 741,629.5 735,637.5 728,646.5 722,654.5 716,662.5 715,664.5 711,669.5 705,676.5 700,683.5 695,690.5 694,690.5 699,683.5 704,676.5 710,669.5 714,664.5 715,662.5 721,654.5 727,646.5 734,637.5 740,629.5 747,620.5 755,610.5 762,601.5 770,590.5ZM694.5,691 693.5,692 693.5,691 694.5,690ZM694,691.5 689,697.5 685,703.5 680,710.5 675,716.5 673,719.5 671,722.5 667,727.5 662,733.5 658,739.5 654,744.5 653,747.5 652,747.5 653,744.5 657,739.5 661,733.5 666,727.5 670,722.5 672,719.5 674,716.5 679,710.5 684,703.5 688,697.5 693,691.5ZM652.5,748 650.5,750 650.5,749 652.5,747ZM651,749.5 647,754.5 643,760.5 642,760.5 646,754.5 650,749.5ZM642.5,761 638.5,765 638.5,764 642.5,760ZM639,764.5 636,769.5 632,774.5 632,775.5 629,779.5 626,783.5 622,788.5 619,792.5 616,796.5 613,801.5 612,801.5 615,796.5 618,792.5 621,788.5 625,783.5 628,779.5 631,775.5 631,774.5 635,769.5 638,764.5ZM1086,250h1v1h-1ZM1085,251h1v1h-1ZM1024,324h1v1h-1ZM1020,328h1v1h-1ZM941,425h1v1h-1ZM935,431h1v1h-1ZM920,451h1v1h-1ZM919,451h1v1h-1ZM858,529h1v1h-1ZM856,531h1v1h-1ZM838,556h1v1h-1ZM837,557h1v1h-1ZM776,637h1v1h-1ZM775,637h1v1h-1ZM714,722h1v1h-1ZM713,722h1v1h-1ZM694,749h1v1h-1ZM693,750h1v1h-1ZM673,779h1v1h-1ZM672,779h1v1h-1ZM657,801h1v1h-1ZM1086.5,251 1085.5,252 1085.5,251 1086.5,250ZM1086,251.5 1066,275.5 1051,292.5 1045,299.5 1025,324.5 1024,324.5 1044,299.5 1050,292.5 1065,275.5 1085,251.5ZM1024.5,325 1020.5,329 1020.5,328 1024.5,324ZM1021,328.5 1004,349.5 996,358.5 983,374.5 974,385.5 963,400.5 954,410.5 942,425.5 941,425.5 953,410.5 962,400.5 973,385.5 982,374.5 995,358.5 1003,349.5 1020,328.5ZM941.5,426 935.5,432 935.5,431 941.5,425ZM936,431.5 921,451.5 920,451.5 935,431.5ZM920.5,452 919.5,452 919.5,451 920.5,451ZM920,451.5 906,470.5 901,477.5 892,487.5 880,503.5 868,517.5 859,529.5 858,529.5 867,517.5 879,503.5 891,487.5 900,477.5 905,470.5 919,451.5ZM858.5,530 856.5,532 856.5,531 858.5,529ZM857,531.5 847,544.5 839,556.5 838,556.5 846,544.5 856,531.5ZM838.5,557 837.5,558 837.5,557 838.5,556ZM838,557.5 828,569.5 820,580.5 818,583.5 812,590.5 804,601.5 797,610.5 790,620.5 783,629.5 777,637.5 776,637.5 782,629.5 789,620.5 796,610.5 803,601.5 811,590.5 817,583.5 819,580.5 827,569.5 837,557.5ZM776.5,638 775.5,638 775.5,637 776.5,637ZM776,637.5 770,646.5 764,654.5 758,662.5 756,665.5 753,669.5 747,676.5 742,683.5 737,690.5 735,693.5 732,697.5 728,703.5 723,710.5 719,716.5 715,722.5 714,722.5 718,716.5 722,710.5 727,703.5 731,697.5 734,693.5 736,690.5 741,683.5 746,676.5 752,669.5 755,665.5 757,662.5 763,654.5 769,646.5 775,637.5ZM714.5,723 713.5,723 713.5,722 714.5,722ZM714,722.5 710,727.5 706,733.5 702,739.5 698,744.5 695,749.5 694,749.5 697,744.5 701,739.5 705,733.5 709,727.5 713,722.5ZM694.5,750 693.5,751 693.5,750 694.5,749ZM694,750.5 691,754.5 687,760.5 684,764.5 680,769.5 677,774.5 674,779.5 673,779.5 676,774.5 679,769.5 683,764.5 686,760.5 690,754.5 693,750.5ZM673.5,780 672.5,780 672.5,779 673.5,779ZM673,779.5 670,783.5 667,788.5 664,792.5 661,796.5 658,801.5 657,801.5 660,796.5 663,792.5 666,788.5 669,783.5 672,779.5ZM1086,288h1v1h-1ZM1081,292h1v1h-1ZM941,468h1v1h-1ZM939,470h1v1h-1ZM840,601h1v1h-1ZM838,603h1v1h-1ZM817,632h1v1h-1ZM812,637h1v1h-1ZM776,689h1v1h-1ZM774,690h1v1h-1ZM726,760h1v1h-1ZM722,764h1v1h-1ZM713,779h1v1h-1ZM709,783h1v1h-1ZM698,801h1v1h-1ZM1086.5,289 1081.5,293 1081.5,292 1086.5,288ZM1082,292.5 1066,313.5 1053,328.5 1045,338.5 1028,358.5 1025,363.5 1007,385.5 1004,389.5 987,410.5 983,415.5 970,431.5 963,441.5 954,451.5 942,468.5 941,468.5 953,451.5 962,441.5 969,431.5 982,415.5 986,410.5 1003,389.5 1006,385.5 1024,363.5 1027,358.5 1044,338.5 1052,328.5 1065,313.5 1081,292.5ZM941.5,469 939.5,471 939.5,470 941.5,468ZM940,470.5 927,487.5 921,494.5 915,503.5 903,517.5 901,521.5 893,531.5 883,544.5 880,548.5 873,557.5 864,569.5 859,576.5 856,580.5 848,590.5 841,601.5 840,601.5 847,590.5 855,580.5 858,576.5 863,569.5 872,557.5 879,548.5 882,544.5 892,531.5 900,521.5 902,517.5 914,503.5 920,494.5 926,487.5 939,470.5ZM840.5,602 838.5,604 838.5,603 840.5,601ZM839,603.5 833,610.5 826,620.5 820,629.5 818,632.5 817,632.5 819,629.5 825,620.5 832,610.5 838,603.5ZM817.5,633 812.5,638 812.5,637 817.5,632ZM813,637.5 807,646.5 802,654.5 797,660.5 796,662.5 790,669.5 785,676.5 780,683.5 777,689.5 776,689.5 779,683.5 784,676.5 789,669.5 795,662.5 796,660.5 801,654.5 806,646.5 812,637.5ZM776.5,690 774.5,691 774.5,690 776.5,689ZM775,690.5 771,697.5 766,703.5 762,710.5 757,716.5 756,718.5 753,722.5 749,727.5 745,733.5 741,739.5 737,744.5 735,747.5 734,749.5 730,754.5 727,760.5 726,760.5 729,754.5 733,749.5 734,747.5 736,744.5 740,739.5 744,733.5 748,727.5 752,722.5 755,718.5 756,716.5 761,710.5 765,703.5 770,697.5 774,690.5ZM726.5,761 722.5,765 722.5,764 726.5,760ZM723,764.5 720,769.5 717,774.5 715,777.5 714,779.5 713,779.5 714,777.5 716,774.5 719,769.5 722,764.5ZM713.5,780 709.5,784 709.5,783 713.5,779ZM710,783.5 707,788.5 704,792.5 701,796.5 699,801.5 698,801.5 700,796.5 703,792.5 706,788.5 709,783.5ZM1086,323h1v1h-1ZM1081,328h1v1h-1ZM1003,427h1v1h-1ZM999,431h1v1h-1ZM859,620h1v1h-1ZM858,621h1v1h-1ZM838,650h1v1h-1ZM834,654h1v1h-1ZM796,709h1v1h-1ZM795,710h1v1h-1ZM749,779h1v1h-1ZM745,783h1v1h-1ZM734,801h1v1h-1ZM1086.5,324 1081.5,329 1081.5,328 1086.5,323ZM1082,328.5 1066,349.5 1058,358.5 1045,375.5 1036,385.5 1025,401.5 1017,410.5 1004,427.5 1003,427.5 1016,410.5 1024,401.5 1035,385.5 1044,375.5 1057,358.5 1065,349.5 1081,328.5ZM1003.5,428 999.5,432 999.5,431 1003.5,427ZM1000,431.5 985,451.5 983,454.5 971,470.5 963,481.5 958,487.5 946,503.5 942,508.5 935,517.5 925,531.5 921,536.5 915,544.5 906,557.5 901,564.5 897,569.5 889,580.5 881,590.5 880,592.5 873,601.5 866,610.5 860,620.5 859,620.5 865,610.5 872,601.5 879,592.5 880,590.5 888,580.5 896,569.5 900,564.5 905,557.5 914,544.5 920,536.5 924,531.5 934,517.5 941,508.5 945,503.5 957,487.5 962,481.5 970,470.5 982,454.5 984,451.5 999,431.5ZM859.5,621 858.5,622 858.5,621 859.5,620ZM859,621.5 853,629.5 847,637.5 841,646.5 839,650.5 838,650.5 840,646.5 846,637.5 852,629.5 858,621.5ZM838.5,651 834.5,655 834.5,654 838.5,650ZM835,654.5 830,662.5 825,669.5 820,676.5 818,679.5 815,683.5 810,690.5 805,697.5 801,703.5 797,709.5 796,709.5 800,703.5 804,697.5 809,690.5 814,683.5 817,679.5 819,676.5 824,669.5 829,662.5 834,654.5ZM796.5,710 795.5,711 795.5,710 796.5,709ZM796,710.5 792,716.5 788,722.5 784,727.5 780,733.5 777,739.5 773,744.5 769,749.5 766,754.5 762,760.5 759,764.5 756,769.5 753,774.5 750,779.5 749,779.5 752,774.5 755,769.5 758,764.5 761,760.5 765,754.5 768,749.5 772,744.5 776,739.5 779,733.5 783,727.5 787,722.5 791,716.5 795,710.5ZM749.5,780 745.5,784 745.5,783 749.5,779ZM746,783.5 744,788.5 741,792.5 738,796.5 735,800.5 735,801.5 734,801.5 734,800.5 737,796.5 740,792.5 743,788.5 745,783.5ZM1086,356h1v1h-1ZM1084,358h1v1h-1ZM1065,383h1v1h-1ZM1063,385h1v1h-1ZM986,487h1v1h-1ZM982,491h1v1h-1ZM879,635h1v1h-1ZM877,637h1v1h-1ZM860,662h1v1h-1ZM858,664h1v1h-1ZM838,695h1v1h-1ZM836,697h1v1h-1ZM817,725h1v1h-1ZM815,727h1v1h-1ZM767,801h1v1h-1ZM1086.5,357 1084.5,359 1084.5,358 1086.5,356ZM1085,358.5 1066,383.5 1065,383.5 1084,358.5ZM1065.5,384 1063.5,386 1063.5,385 1065.5,383ZM1064,385.5 1045,409.5 1045,410.5 1028,431.5 1025,437.5 1013,451.5 1004,464.5 999,470.5 987,487.5 986,487.5 998,470.5 1003,464.5 1012,451.5 1024,437.5 1027,431.5 1044,410.5 1044,409.5 1063,385.5ZM986.5,488 982.5,492 982.5,491 986.5,487ZM983,491.5 975,503.5 964,517.5 963,519.5 954,531.5 944,544.5 942,548.5 935,557.5 927,569.5 921,576.5 919,580.5 911,590.5 904,601.5 901,605.5 897,610.5 890,620.5 884,629.5 880,635.5 879,635.5 883,629.5 889,620.5 896,610.5 900,605.5 903,601.5 910,590.5 918,580.5 920,576.5 926,569.5 934,557.5 941,548.5 943,544.5 953,531.5 962,519.5 963,517.5 974,503.5 982,491.5ZM879.5,636 877.5,638 877.5,637 879.5,635ZM878,637.5 872,646.5 866,654.5 861,662.5 860,662.5 865,654.5 871,646.5 877,637.5ZM860.5,663 858.5,665 858.5,664 860.5,662ZM859,664.5 856,669.5 851,676.5 846,683.5 841,690.5 839,695.5 838,695.5 840,690.5 845,683.5 850,676.5 855,669.5 858,664.5ZM838.5,696 836.5,698 836.5,697 838.5,695ZM837,697.5 832,703.5 828,710.5 824,716.5 820,722.5 818,725.5 817,725.5 819,722.5 823,716.5 827,710.5 831,703.5 836,697.5ZM817.5,726 815.5,728 815.5,727 817.5,725ZM816,727.5 812,733.5 809,739.5 805,744.5 802,749.5 798,754.5 797,756.5 795,760.5 792,764.5 789,769.5 786,774.5 783,779.5 780,783.5 777,788.5 774,792.5 771,796.5 768,801.5 767,801.5 770,796.5 773,792.5 776,788.5 779,783.5 782,779.5 785,774.5 788,769.5 791,764.5 794,760.5 796,756.5 797,754.5 801,749.5 804,744.5 808,739.5 811,733.5 815,727.5ZM1086,388h1v1h-1ZM962,557h1v1h-1ZM961,557h1v1h-1ZM798,801h1v1h-1ZM1087,388.5 1070,410.5 1066,416.5 1054,431.5 1045,443.5 1039,451.5 1025,470.5 1025,471.5 1013,487.5 1004,499.5 1001,503.5 990,517.5 983,528.5 981,531.5 971,544.5 963,557.5 962,557.5 970,544.5 980,531.5 982,528.5 989,517.5 1000,503.5 1003,499.5 1012,487.5 1024,471.5 1024,470.5 1038,451.5 1044,443.5 1053,431.5 1065,416.5 1069,410.5 1086,388.5ZM962.5,558 961.5,558 961.5,557 962.5,557ZM962,557.5 954,569.5 946,580.5 942,586.5 939,590.5 931,601.5 925,610.5 921,616.5 918,620.5 912,629.5 906,637.5 901,646.5 895,654.5 890,662.5 885,669.5 880,676.5 875,683.5 870,690.5 866,697.5 862,703.5 859,707.5 858,710.5 854,716.5 850,722.5 846,727.5 842,733.5 839,739.5 835,744.5 832,749.5 828,754.5 825,760.5 822,764.5 819,769.5 818,771.5 816,774.5 813,779.5 810,783.5 807,788.5 805,792.5 802,796.5 799,801.5 798,801.5 801,796.5 804,792.5 806,788.5 809,783.5 812,779.5 815,774.5 817,771.5 818,769.5 821,764.5 824,760.5 827,754.5 831,749.5 834,744.5 838,739.5 841,733.5 845,727.5 849,722.5 853,716.5 857,710.5 858,707.5 861,703.5 865,697.5 869,690.5 874,683.5 879,676.5 884,669.5 889,662.5 894,654.5 900,646.5 905,637.5 911,629.5 917,620.5 920,616.5 924,610.5 930,601.5 938,590.5 941,586.5 945,580.5 953,569.5 961,557.5ZM1086,420h1v1h-1ZM1065,448h1v1h-1ZM1062,451h1v1h-1ZM921,654h1v1h-1ZM920,654h1v1h-1ZM900,686h1v1h-1ZM896,690h1v1h-1ZM859,749h1v1h-1ZM858,750h1v1h-1ZM827,801h1v1h-1ZM1087,420.5 1077,431.5 1066,448.5 1065,448.5 1076,431.5 1086,420.5ZM1065.5,449 1062.5,452 1062.5,451 1065.5,448ZM1063,451.5 1049,470.5 1045,476.5 1037,487.5 1026,503.5 1025,505.5 1015,517.5 1005,531.5 1004,534.5 996,544.5 988,557.5 983,563.5 979,569.5 972,580.5 964,590.5 963,593.5 957,601.5 951,610.5 944,620.5 942,623.5 938,629.5 932,637.5 927,646.5 922,654.5 921,654.5 926,646.5 931,637.5 937,629.5 941,623.5 943,620.5 950,610.5 956,601.5 962,593.5 963,590.5 971,580.5 978,569.5 982,563.5 987,557.5 995,544.5 1003,534.5 1004,531.5 1014,517.5 1024,505.5 1025,503.5 1036,487.5 1044,476.5 1048,470.5 1062,451.5ZM921.5,655 920.5,655 920.5,654 921.5,654ZM921,654.5 916,662.5 911,669.5 907,676.5 902,683.5 901,686.5 900,686.5 901,683.5 906,676.5 910,669.5 915,662.5 920,654.5ZM900.5,687 896.5,691 896.5,690 900.5,686ZM897,690.5 893,697.5 889,703.5 885,710.5 881,716.5 880,718.5 877,722.5 873,727.5 870,733.5 866,739.5 863,744.5 860,749.5 859,749.5 862,744.5 865,739.5 869,733.5 872,727.5 876,722.5 879,718.5 880,716.5 884,710.5 888,703.5 892,697.5 896,690.5ZM859.5,750 858.5,751 858.5,750 859.5,749ZM859,750.5 856,754.5 853,760.5 850,764.5 847,769.5 844,774.5 841,779.5 839,783.5 836,788.5 833,792.5 830,796.5 828,801.5 827,801.5 829,796.5 832,792.5 835,788.5 838,783.5 840,779.5 843,774.5 846,769.5 849,764.5 852,760.5 855,754.5 858,750.5ZM1086,450h1v1h-1ZM1084,451h1v1h-1ZM1003,568h1v1h-1ZM1002,569h1v1h-1ZM941,661h1v1h-1ZM940,662h1v1h-1ZM900,726h1v1h-1ZM898,727h1v1h-1ZM879,760h1v1h-1ZM875,764h1v1h-1ZM859,792h1v1h-1ZM858,793h1v1h-1ZM854,801h1v1h-1ZM1086.5,451 1084.5,452 1084.5,451 1086.5,450ZM1085,451.5 1072,470.5 1066,479.5 1060,487.5 1049,503.5 1045,508.5 1038,517.5 1029,531.5 1025,538.5 1020,544.5 1011,557.5 1004,568.5 1003,568.5 1010,557.5 1019,544.5 1024,538.5 1028,531.5 1037,517.5 1044,508.5 1048,503.5 1059,487.5 1065,479.5 1071,470.5 1084,451.5ZM1003.5,569 1002.5,570 1002.5,569 1003.5,568ZM1003,569.5 995,580.5 988,590.5 983,598.5 981,601.5 975,610.5 969,620.5 963,629.5 957,637.5 951,646.5 946,654.5 942,661.5 941,661.5 945,654.5 950,646.5 956,637.5 962,629.5 968,620.5 974,610.5 980,601.5 982,598.5 987,590.5 994,580.5 1002,569.5ZM941.5,662 940.5,663 940.5,662 941.5,661ZM941,662.5 936,669.5 932,676.5 927,683.5 923,690.5 921,693.5 919,697.5 914,703.5 910,710.5 907,716.5 903,722.5 901,726.5 900,726.5 902,722.5 906,716.5 909,710.5 913,703.5 918,697.5 920,693.5 922,690.5 926,683.5 931,676.5 935,669.5 940,662.5ZM900.5,727 898.5,728 898.5,727 900.5,726ZM899,727.5 896,733.5 892,739.5 889,744.5 886,749.5 883,754.5 880,759.5 880,760.5 879,760.5 879,759.5 882,754.5 885,749.5 888,744.5 891,739.5 895,733.5 898,727.5ZM879.5,761 875.5,765 875.5,764 879.5,760ZM876,764.5 873,769.5 871,774.5 868,779.5 865,783.5 862,788.5 860,792.5 859,792.5 861,788.5 864,783.5 867,779.5 870,774.5 872,769.5 875,764.5ZM859.5,793 858.5,794 858.5,793 859.5,792ZM859,793.5 857,796.5 855,801.5 854,801.5 856,796.5 858,793.5ZM1086,480h1v1h-1ZM900,766h1v1h-1ZM897,769h1v1h-1ZM879,801h1v1h-1ZM1087,480.5 1081,487.5 1070,503.5 1066,509.5 1060,517.5 1050,531.5 1045,539.5 1042,544.5 1033,557.5 1025,569.5 1025,570.5 1018,580.5 1011,590.5 1004,601.5 998,610.5 991,620.5 986,629.5 983,633.5 980,637.5 975,646.5 969,654.5 965,662.5 963,665.5 960,669.5 955,676.5 951,683.5 946,690.5 942,697.5 942,698.5 938,703.5 934,710.5 931,716.5 927,722.5 923,727.5 921,731.5 920,733.5 917,739.5 913,744.5 910,749.5 907,754.5 904,760.5 901,764.5 901,766.5 900,766.5 900,764.5 903,760.5 906,754.5 909,749.5 912,744.5 916,739.5 919,733.5 920,731.5 922,727.5 926,722.5 930,716.5 933,710.5 937,703.5 941,698.5 941,697.5 945,690.5 950,683.5 954,676.5 959,669.5 962,665.5 964,662.5 968,654.5 974,646.5 979,637.5 982,633.5 985,629.5 990,620.5 997,610.5 1003,601.5 1010,590.5 1017,580.5 1024,570.5 1024,569.5 1032,557.5 1041,544.5 1044,539.5 1049,531.5 1059,517.5 1065,509.5 1069,503.5 1080,487.5 1086,480.5ZM900.5,767 897.5,770 897.5,769 900.5,766ZM898,769.5 895,774.5 893,779.5 890,783.5 887,788.5 885,792.5 882,796.5 880,801.5 879,801.5 881,796.5 884,792.5 886,788.5 889,783.5 892,779.5 894,774.5 897,769.5ZM1086,509h1v1h-1ZM1045,569h1v1h-1ZM1044,570h1v1h-1ZM962,701h1v1h-1ZM960,703h1v1h-1ZM921,769h1v1h-1ZM920,770h1v1h-1ZM903,801h1v1h-1ZM1087,509.5 1080,517.5 1071,531.5 1066,539.5 1062,544.5 1054,557.5 1046,569.5 1045,569.5 1053,557.5 1061,544.5 1065,539.5 1070,531.5 1079,517.5 1086,509.5ZM1045.5,570 1044.5,571 1044.5,570 1045.5,569ZM1045,570.5 1039,580.5 1032,590.5 1025,601.5 1025,602.5 1019,610.5 1013,620.5 1007,629.5 1004,634.5 1002,637.5 996,646.5 991,654.5 987,662.5 983,667.5 982,669.5 977,676.5 973,683.5 969,690.5 965,697.5 963,701.5 962,701.5 964,697.5 968,690.5 972,683.5 976,676.5 981,669.5 982,667.5 986,662.5 990,654.5 995,646.5 1001,637.5 1003,634.5 1006,629.5 1012,620.5 1018,610.5 1024,602.5 1024,601.5 1031,590.5 1038,580.5 1044,570.5ZM962.5,702 960.5,704 960.5,703 962.5,701ZM961,703.5 957,710.5 953,716.5 950,722.5 946,727.5 943,733.5 942,735.5 940,739.5 936,744.5 933,749.5 930,754.5 927,760.5 924,764.5 922,769.5 921,769.5 923,764.5 926,760.5 929,754.5 932,749.5 935,744.5 939,739.5 941,735.5 942,733.5 945,727.5 949,722.5 952,716.5 956,710.5 960,703.5ZM921.5,770 920.5,771 920.5,770 921.5,769ZM921,770.5 919,774.5 916,779.5 913,783.5 911,788.5 908,792.5 906,796.5 904,801.5 903,801.5 905,796.5 907,792.5 910,788.5 912,783.5 915,779.5 918,774.5 920,770.5ZM1086,537h1v1h-1ZM1045,601h1v1h-1ZM1044,601h1v1h-1ZM1024,634h1v1h-1ZM1021,637h1v1h-1ZM982,702h1v1h-1ZM981,703h1v1h-1ZM962,737h1v1h-1ZM960,739h1v1h-1ZM941,773h1v1h-1ZM940,774h1v1h-1ZM925,801h1v1h-1ZM1087,537.5 1082,544.5 1074,557.5 1066,569.5 1059,580.5 1052,590.5 1046,601.5 1045,601.5 1051,590.5 1058,580.5 1065,569.5 1073,557.5 1081,544.5 1086,537.5ZM1045.5,602 1044.5,602 1044.5,601 1045.5,601ZM1045,601.5 1039,610.5 1033,620.5 1028,629.5 1025,634.5 1024,634.5 1027,629.5 1032,620.5 1038,610.5 1044,601.5ZM1024.5,635 1021.5,638 1021.5,637 1024.5,634ZM1022,637.5 1017,646.5 1012,654.5 1007,662.5 1004,667.5 1003,669.5 998,676.5 994,683.5 990,690.5 986,697.5 983,702.5 982,702.5 985,697.5 989,690.5 993,683.5 997,676.5 1002,669.5 1003,667.5 1006,662.5 1011,654.5 1016,646.5 1021,637.5ZM982.5,703 981.5,704 981.5,703 982.5,702ZM982,703.5 978,710.5 975,716.5 971,722.5 968,727.5 964,733.5 963,737.5 962,737.5 963,733.5 967,727.5 970,722.5 974,716.5 977,710.5 981,703.5ZM962.5,738 960.5,740 960.5,739 962.5,737ZM961,739.5 958,744.5 955,749.5 952,754.5 949,760.5 946,764.5 944,769.5 942,773.5 941,773.5 943,769.5 945,764.5 948,760.5 951,754.5 954,749.5 957,744.5 960,739.5ZM941.5,774 940.5,775 940.5,774 941.5,773ZM941,774.5 938,779.5 936,783.5 933,788.5 931,792.5 928,796.5 926,801.5 925,801.5 927,796.5 930,792.5 932,788.5 935,783.5 937,779.5 940,774.5ZM1086,566h1v1h-1ZM1003,701h1v1h-1ZM1001,703h1v1h-1ZM962,773h1v1h-1ZM961,774h1v1h-1ZM946,801h1v1h-1ZM1087,566.5 1085,569.5 1078,580.5 1071,590.5 1066,599.5 1065,601.5 1058,610.5 1053,620.5 1047,629.5 1045,632.5 1042,637.5 1037,646.5 1032,654.5 1027,662.5 1025,666.5 1023,669.5 1018,676.5 1014,683.5 1010,690.5 1006,697.5 1004,701.5 1003,701.5 1005,697.5 1009,690.5 1013,683.5 1017,676.5 1022,669.5 1024,666.5 1026,662.5 1031,654.5 1036,646.5 1041,637.5 1044,632.5 1046,629.5 1052,620.5 1057,610.5 1064,601.5 1065,599.5 1070,590.5 1077,580.5 1084,569.5 1086,566.5ZM1003.5,702 1001.5,704 1001.5,703 1003.5,701ZM1002,703.5 998,710.5 995,716.5 991,722.5 988,727.5 985,733.5 983,736.5 982,739.5 979,744.5 976,749.5 973,754.5 970,760.5 967,764.5 965,769.5 963,773.5 962,773.5 964,769.5 966,764.5 969,760.5 972,754.5 975,749.5 978,744.5 981,739.5 982,736.5 984,733.5 987,727.5 990,722.5 994,716.5 997,710.5 1001,703.5ZM962.5,774 961.5,775 961.5,774 962.5,773ZM962,774.5 959,779.5 957,783.5 954,788.5 952,792.5 950,796.5 947,801.5 946,801.5 949,796.5 951,792.5 953,788.5 956,783.5 958,779.5 961,774.5ZM1086,595h1v1h-1ZM1045,662h1v1h-1ZM1044,663h1v1h-1ZM967,801h1v1h-1ZM1087,595.5 1083,601.5 1077,610.5 1071,620.5 1066,628.5 1066,629.5 1060,637.5 1055,646.5 1050,654.5 1046,662.5 1045,662.5 1049,654.5 1054,646.5 1059,637.5 1065,629.5 1065,628.5 1070,620.5 1076,610.5 1082,601.5 1086,595.5ZM1045.5,663 1044.5,664 1044.5,663 1045.5,662ZM1045,663.5 1041,669.5 1037,676.5 1033,683.5 1029,690.5 1025,697.5 1025,698.5 1021,703.5 1018,710.5 1014,716.5 1011,722.5 1008,727.5 1004,733.5 1004,734.5 1001,739.5 998,744.5 995,749.5 992,754.5 990,760.5 987,764.5 984,769.5 983,772.5 982,774.5 979,779.5 977,783.5 974,788.5 972,792.5 970,796.5 968,801.5 967,801.5 969,796.5 971,792.5 973,788.5 976,783.5 978,779.5 981,774.5 982,772.5 983,769.5 986,764.5 989,760.5 991,754.5 994,749.5 997,744.5 1000,739.5 1003,734.5 1003,733.5 1007,727.5 1010,722.5 1013,716.5 1017,710.5 1020,703.5 1024,698.5 1024,697.5 1028,690.5 1032,683.5 1036,676.5 1040,669.5 1044,663.5ZM1086,623h1v1h-1ZM1024,731h1v1h-1ZM1022,733h1v1h-1ZM1003,768h1v1h-1ZM1002,769h1v1h-1ZM986,801h1v1h-1ZM1087,623.5 1083,629.5 1078,637.5 1073,646.5 1068,654.5 1066,658.5 1064,662.5 1059,669.5 1055,676.5 1051,683.5 1047,690.5 1045,694.5 1043,697.5 1040,703.5 1036,710.5 1033,716.5 1029,722.5 1026,727.5 1025,731.5 1024,731.5 1025,727.5 1028,722.5 1032,716.5 1035,710.5 1039,703.5 1042,697.5 1044,694.5 1046,690.5 1050,683.5 1054,676.5 1058,669.5 1063,662.5 1065,658.5 1067,654.5 1072,646.5 1077,637.5 1082,629.5 1086,623.5ZM1024.5,732 1022.5,734 1022.5,733 1024.5,731ZM1023,733.5 1020,739.5 1017,744.5 1014,749.5 1011,754.5 1009,760.5 1006,764.5 1004,768.5 1003,768.5 1005,764.5 1008,760.5 1010,754.5 1013,749.5 1016,744.5 1019,739.5 1022,733.5ZM1003.5,769 1002.5,770 1002.5,769 1003.5,768ZM1003,769.5 1001,774.5 998,779.5 996,783.5 994,788.5 991,792.5 989,796.5 987,801.5 986,801.5 988,796.5 990,792.5 993,788.5 995,783.5 997,779.5 1000,774.5 1002,769.5ZM1086,652h1v1h-1ZM1084,654h1v1h-1ZM1065,688h1v1h-1ZM1063,690h1v1h-1ZM1024,764h1v1h-1ZM1023,764h1v1h-1ZM1004,801h1v1h-1ZM1086.5,653 1084.5,655 1084.5,654 1086.5,652ZM1085,654.5 1081,662.5 1076,669.5 1072,676.5 1068,683.5 1066,688.5 1065,688.5 1067,683.5 1071,676.5 1075,669.5 1080,662.5 1084,654.5ZM1065.5,689 1063.5,691 1063.5,690 1065.5,688ZM1064,690.5 1061,697.5 1057,703.5 1054,710.5 1050,716.5 1047,722.5 1045,725.5 1044,727.5 1041,733.5 1038,739.5 1035,744.5 1032,749.5 1029,754.5 1027,760.5 1025,764.5 1024,764.5 1026,760.5 1028,754.5 1031,749.5 1034,744.5 1037,739.5 1040,733.5 1043,727.5 1044,725.5 1046,722.5 1049,716.5 1053,710.5 1056,703.5 1060,697.5 1063,690.5ZM1024.5,765 1023.5,765 1023.5,764 1024.5,764ZM1024,764.5 1021,769.5 1019,774.5 1016,779.5 1014,783.5 1012,788.5 1010,792.5 1007,796.5 1005,801.5 1004,801.5 1006,796.5 1009,792.5 1011,788.5 1013,783.5 1015,779.5 1018,774.5 1020,769.5 1023,764.5ZM1086,680h1v1h-1ZM1022,801h1v1h-1ZM1087,680.5 1085,683.5 1081,690.5 1077,697.5 1074,703.5 1070,710.5 1067,716.5 1066,718.5 1064,722.5 1061,727.5 1058,733.5 1055,739.5 1052,744.5 1049,749.5 1046,754.5 1045,757.5 1044,760.5 1041,764.5 1039,769.5 1036,774.5 1034,779.5 1032,783.5 1029,788.5 1027,792.5 1025,796.5 1025,797.5 1023,801.5 1022,801.5 1024,797.5 1024,796.5 1026,792.5 1028,788.5 1031,783.5 1033,779.5 1035,774.5 1038,769.5 1040,764.5 1043,760.5 1044,757.5 1045,754.5 1048,749.5 1051,744.5 1054,739.5 1057,733.5 1060,727.5 1063,722.5 1065,718.5 1066,716.5 1069,710.5 1073,703.5 1076,697.5 1080,690.5 1084,683.5 1086,680.5ZM1086,709h1v1h-1ZM1085,710h1v1h-1ZM1039,801h1v1h-1ZM1086.5,710 1085.5,711 1085.5,710 1086.5,709ZM1086,710.5 1083,716.5 1080,722.5 1077,727.5 1074,733.5 1071,739.5 1068,744.5 1066,749.5 1063,754.5 1060,760.5 1058,764.5 1055,769.5 1053,774.5 1051,779.5 1048,783.5 1046,788.5 1045,790.5 1044,792.5 1042,796.5 1040,801.5 1039,801.5 1041,796.5 1043,792.5 1044,790.5 1045,788.5 1047,783.5 1050,779.5 1052,774.5 1054,769.5 1057,764.5 1059,760.5 1062,754.5 1065,749.5 1067,744.5 1070,739.5 1073,733.5 1076,727.5 1079,722.5 1082,716.5 1085,710.5ZM1086,739h1v1h-1ZM1066,779h1v1h-1ZM1065,780h1v1h-1ZM1055,801h1v1h-1ZM1087,739.5 1084,744.5 1081,749.5 1079,754.5 1076,760.5 1074,764.5 1071,769.5 1069,774.5 1067,779.5 1066,779.5 1068,774.5 1070,769.5 1073,764.5 1075,760.5 1078,754.5 1080,749.5 1083,744.5 1086,739.5ZM1066.5,780 1065.5,781 1065.5,780 1066.5,779ZM1066,780.5 1064,783.5 1062,788.5 1060,792.5 1058,796.5 1056,801.5 1055,801.5 1057,796.5 1059,792.5 1061,788.5 1063,783.5 1065,780.5ZM1086,769h1v1h-1ZM1070,801h1v1h-1ZM1087,769.5 1084,774.5 1082,779.5 1080,783.5 1078,788.5 1075,792.5 1073,796.5 1071,801.5 1070,801.5 1072,796.5 1074,792.5 1077,788.5 1079,783.5 1081,779.5 1083,774.5 1086,769.5Z"/>
<path fill="#ff0000" d="M156,699h1v1h-1ZM314,801h1v1h-1ZM156.5,699 162.5,703 172.5,710 176.5,713 181.5,716 190.5,722 197.5,726 198.5,727 207.5,733 216.5,739 218.5,740 224.5,744 232.5,749 238.5,753 240.5,754 248.5,760 256.5,764 259.5,766 264.5,769 272.5,774 279.5,779 280.5,779 286.5,783 294.5,788 300.5,792 301.5,792 308.5,796 314.5,801 314.5,802 308.5,797 301.5,793 300.5,793 294.5,789 286.5,784 280.5,780 279.5,780 272.5,775 264.5,770 259.5,767 256.5,765 248.5,761 240.5,755 238.5,754 232.5,750 224.5,745 218.5,741 216.5,740 207.5,734 198.5,728 197.5,727 190.5,723 181.5,717 176.5,714 172.5,711 162.5,704 156.5,700ZM156,598h1v1h-1ZM458,801h1v1h-1ZM156.5,598 159.5,601 172.5,610 176.5,614 184.5,620 196.5,629 197.5,629 208.5,637 218.5,644 220.5,646 232.5,654 238.5,658 243.5,662 254.5,669 259.5,672 265.5,676 276.5,683 280.5,686 287.5,690 297.5,697 300.5,699 307.5,703 317.5,710 321.5,712 326.5,716 336.5,722 342.5,725 345.5,727 354.5,733 362.5,738 363.5,739 371.5,744 380.5,749 383.5,751 388.5,754 396.5,760 403.5,764 404.5,765 411.5,769 418.5,774 424.5,778 425.5,779 432.5,783 439.5,788 445.5,792 452.5,796 458.5,801 458.5,802 452.5,797 445.5,793 439.5,789 432.5,784 425.5,780 424.5,779 418.5,775 411.5,770 404.5,766 403.5,765 396.5,761 388.5,755 383.5,752 380.5,750 371.5,745 363.5,740 362.5,739 354.5,734 345.5,728 342.5,726 336.5,723 326.5,717 321.5,713 317.5,711 307.5,704 300.5,700 297.5,698 287.5,691 280.5,687 276.5,684 265.5,677 259.5,673 254.5,670 243.5,663 238.5,659 232.5,655 220.5,647 218.5,645 208.5,638 197.5,630 196.5,630 184.5,621 176.5,615 172.5,611 159.5,602 156.5,599ZM156,497h1v1h-1ZM424,690h1v1h-1ZM424,691h1v1h-1ZM576,801h1v1h-1ZM156.5,497 162.5,503 176.5,515 179.5,517 196.5,531 197.5,532 212.5,544 218.5,549 228.5,557 238.5,565 243.5,569 259.5,580 273.5,590 280.5,595 288.5,601 300.5,609 302.5,610 316.5,620 321.5,623 329.5,629 342.5,637 355.5,646 362.5,651 367.5,654 379.5,662 383.5,664 391.5,669 402.5,676 404.5,677 413.5,683 424.5,690 424.5,691 413.5,684 404.5,678 402.5,677 391.5,670 383.5,665 379.5,663 367.5,655 362.5,652 355.5,647 342.5,638 329.5,630 321.5,624 316.5,621 302.5,611 300.5,610 288.5,602 280.5,596 273.5,591 259.5,581 243.5,570 238.5,566 228.5,558 218.5,550 212.5,545 197.5,533 196.5,532 179.5,518 176.5,516 162.5,504 156.5,498ZM425,690.5 425,691.5 424,691.5 424,690.5ZM424.5,691 434.5,697 444.5,703 445.5,704 453.5,710 462.5,716 466.5,718 471.5,722 480.5,727 486.5,732 488.5,733 496.5,739 504.5,744 507.5,746 511.5,749 518.5,754 525.5,760 528.5,761 532.5,764 538.5,769 544.5,774 548.5,777 550.5,779 556.5,783 561.5,788 566.5,792 569.5,794 571.5,796 576.5,801 576.5,802 571.5,797 569.5,795 566.5,793 561.5,789 556.5,784 550.5,780 548.5,778 544.5,775 538.5,770 532.5,765 528.5,762 525.5,761 518.5,755 511.5,750 507.5,747 504.5,745 496.5,740 488.5,734 486.5,733 480.5,728 471.5,723 466.5,719 462.5,717 453.5,711 445.5,705 444.5,704 434.5,698 424.5,692ZM156,394h1v1h-1ZM171,410h1v1h-1ZM625,754h1v1h-1ZM630,760h1v1h-1ZM645,774h1v1h-1ZM649,779h1v1h-1ZM652,781h1v1h-1ZM657,788h1v1h-1ZM665,796h1v1h-1ZM668,801h1v1h-1ZM157,394.5 172,410.5 171,410.5 156,394.5ZM171.5,410 176.5,415 193.5,431 197.5,435 215.5,451 218.5,454 236.5,470 238.5,471 257.5,487 259.5,489 276.5,503 280.5,505 296.5,517 300.5,521 314.5,531 321.5,536 332.5,544 342.5,551 350.5,557 362.5,565 367.5,569 383.5,580 399.5,590 404.5,593 414.5,601 424.5,607 429.5,610 443.5,620 445.5,621 457.5,629 466.5,634 470.5,637 482.5,646 486.5,648 494.5,654 506.5,662 507.5,662 517.5,669 527.5,676 528.5,676 537.5,683 547.5,690 548.5,691 556.5,697 564.5,703 569.5,707 573.5,710 580.5,716 588.5,722 590.5,723 595.5,727 601.5,733 608.5,739 610.5,741 614.5,744 619.5,749 625.5,754 625.5,755 619.5,750 614.5,745 610.5,742 608.5,740 601.5,734 595.5,728 590.5,724 588.5,723 580.5,717 573.5,711 569.5,708 564.5,704 556.5,698 548.5,692 547.5,691 537.5,684 528.5,677 527.5,677 517.5,670 507.5,663 506.5,663 494.5,655 486.5,649 482.5,647 470.5,638 466.5,635 457.5,630 445.5,622 443.5,621 429.5,611 424.5,608 414.5,602 404.5,594 399.5,591 383.5,581 367.5,570 362.5,566 350.5,558 342.5,552 332.5,545 321.5,537 314.5,532 300.5,522 296.5,518 280.5,506 276.5,504 259.5,490 257.5,488 238.5,472 236.5,471 218.5,455 215.5,452 197.5,436 193.5,432 176.5,416 171.5,411ZM626,754.5 631,760.5 630,760.5 625,754.5ZM630.5,760 631.5,760 635.5,764 640.5,769 645.5,774 645.5,775 640.5,770 635.5,765 631.5,761 630.5,761ZM646,774.5 650,779.5 649,779.5 645,774.5ZM649.5,779 652.5,781 652.5,782 649.5,780ZM653,781.5 654,783.5 658,788.5 657,788.5 653,783.5 652,781.5ZM657.5,788 661.5,792 665.5,796 665.5,797 661.5,793 657.5,789ZM666,796.5 669,801.5 668,801.5 665,796.5ZM156,284h1v1h-1ZM218,356h1v1h-1ZM220,358h1v1h-1ZM238,377h1v1h-1ZM299,431h1v1h-1ZM300,433h1v1h-1ZM486,568h1v1h-1ZM486,569h1v1h-1ZM548,610h1v1h-1ZM548,611h1v1h-1ZM663,703h1v1h-1ZM669,710h1v1h-1ZM672,712h1v1h-1ZM675,716h1v1h-1ZM686,727h1v1h-1ZM691,733h1v1h-1ZM693,735h1v1h-1ZM712,760h1v1h-1ZM714,761h1v1h-1ZM725,779h1v1h-1ZM729,783h1v1h-1ZM739,801h1v1h-1ZM157,284.5 163,292.5 177,310.5 193,328.5 198,334.5 219,356.5 218,356.5 197,334.5 192,328.5 176,310.5 162,292.5 156,284.5ZM218.5,356 220.5,358 220.5,359 218.5,357ZM221,358.5 239,377.5 238,377.5 220,358.5ZM238.5,377 247.5,385 259.5,397 273.5,410 280.5,415 299.5,431 299.5,432 280.5,416 273.5,411 259.5,398 247.5,386 238.5,378ZM300,431.5 301,433.5 300,433.5 299,431.5ZM300.5,433 321.5,450 323.5,451 342.5,466 346.5,470 362.5,482 369.5,487 383.5,497 390.5,503 404.5,512 411.5,517 424.5,526 431.5,531 445.5,541 450.5,544 466.5,555 469.5,557 486.5,568 486.5,569 469.5,558 466.5,556 450.5,545 445.5,542 431.5,532 424.5,527 411.5,518 404.5,513 390.5,504 383.5,498 369.5,488 362.5,483 346.5,471 342.5,467 323.5,452 321.5,451 300.5,434ZM487,568.5 487,569.5 486,569.5 486,568.5ZM486.5,569 503.5,580 507.5,582 519.5,590 528.5,596 534.5,601 548.5,610 548.5,611 534.5,602 528.5,597 519.5,591 507.5,583 503.5,581 486.5,570ZM549,610.5 549,611.5 548,611.5 548,610.5ZM548.5,611 561.5,620 569.5,625 574.5,629 585.5,637 590.5,640 596.5,646 607.5,654 610.5,656 616.5,662 625.5,669 631.5,674 634.5,676 642.5,683 650.5,690 652.5,692 657.5,697 663.5,703 663.5,704 657.5,698 652.5,693 650.5,691 642.5,684 634.5,677 631.5,675 625.5,670 616.5,663 610.5,657 607.5,655 596.5,647 590.5,641 585.5,638 574.5,630 569.5,626 561.5,621 548.5,612ZM664,703.5 670,710.5 669,710.5 663,703.5ZM669.5,710 672.5,712 672.5,713 669.5,711ZM673,712.5 676,716.5 675,716.5 672,712.5ZM675.5,716 681.5,722 686.5,727 686.5,728 681.5,723 675.5,717ZM687,727.5 692,733.5 691,733.5 686,727.5ZM691.5,733 693.5,735 693.5,736 691.5,734ZM694,735.5 697,739.5 701,744.5 705,749.5 709,754.5 713,760.5 712,760.5 708,754.5 704,749.5 700,744.5 696,739.5 693,735.5ZM712.5,760 714.5,761 714.5,762 712.5,761ZM715,761.5 717,764.5 720,769.5 723,774.5 726,779.5 725,779.5 722,774.5 719,769.5 716,764.5 714,761.5ZM725.5,779 729.5,783 729.5,784 725.5,780ZM730,783.5 732,788.5 735,792.5 738,796.5 740,801.5 739,801.5 737,796.5 734,792.5 731,788.5 729,783.5ZM156,162h1v1h-1ZM216,251h1v1h-1ZM218,253h1v1h-1ZM238,279h1v1h-1ZM251,292h1v1h-1ZM280,324h1v1h-1ZM699,654h1v1h-1ZM706,662h1v1h-1ZM714,669h1v1h-1ZM754,722h1v1h-1ZM755,723h1v1h-1ZM795,801h1v1h-1ZM157,162.5 177,195.5 180,199.5 198,227.5 217,251.5 216,251.5 197,227.5 179,199.5 176,195.5 156,162.5ZM216.5,251 218.5,253 218.5,254 216.5,252ZM219,253.5 239,279.5 238,279.5 218,253.5ZM238.5,279 251.5,292 251.5,293 238.5,280ZM252,292.5 260,302.5 281,324.5 280,324.5 259,302.5 251,292.5ZM280.5,324 284.5,328 300.5,344 316.5,358 321.5,363 342.5,381 346.5,385 362.5,399 375.5,410 383.5,416 403.5,431 404.5,432 424.5,447 430.5,451 445.5,463 455.5,470 466.5,477 479.5,487 486.5,492 502.5,503 507.5,506 524.5,517 528.5,520 544.5,531 548.5,534 563.5,544 569.5,548 581.5,557 590.5,563 597.5,569 610.5,578 613.5,580 627.5,590 631.5,594 640.5,601 652.5,610 663.5,620 672.5,628 673.5,629 682.5,637 691.5,646 693.5,648 699.5,654 699.5,655 693.5,649 691.5,647 682.5,638 673.5,630 672.5,629 663.5,621 652.5,611 640.5,602 631.5,595 627.5,591 613.5,581 610.5,579 597.5,570 590.5,564 581.5,558 569.5,549 563.5,545 548.5,535 544.5,532 528.5,521 524.5,518 507.5,507 502.5,504 486.5,493 479.5,488 466.5,478 455.5,471 445.5,464 430.5,452 424.5,448 404.5,433 403.5,432 383.5,417 375.5,411 362.5,400 346.5,386 342.5,382 321.5,364 316.5,359 300.5,345 284.5,329 280.5,325ZM700,654.5 707,662.5 706,662.5 699,654.5ZM706.5,662 713.5,669 714.5,669 714.5,670 713.5,670 706.5,663ZM715,669.5 720,676.5 726,683.5 732,690.5 735,694.5 737,697.5 742,703.5 746,710.5 751,716.5 755,722.5 754,722.5 750,716.5 745,710.5 741,703.5 736,697.5 734,694.5 731,690.5 725,683.5 719,676.5 714,669.5ZM754.5,722 755.5,723 755.5,724 754.5,723ZM756,723.5 758,727.5 762,733.5 765,739.5 768,744.5 771,749.5 774,754.5 777,759.5 777,760.5 779,764.5 782,769.5 784,774.5 786,779.5 788,783.5 790,788.5 792,792.5 794,796.5 796,801.5 795,801.5 793,796.5 791,792.5 789,788.5 787,783.5 785,779.5 783,774.5 781,769.5 778,764.5 776,760.5 776,759.5 773,754.5 770,749.5 767,744.5 764,739.5 761,733.5 757,727.5 755,723.5ZM176,57h1v1h-1ZM299,251h1v1h-1ZM300,252h1v1h-1ZM321,275h1v1h-1ZM718,590h1v1h-1ZM728,601h1v1h-1ZM737,610h1v1h-1ZM753,629h1v1h-1ZM755,631h1v1h-1ZM840,801h1v1h-1ZM177,57.5 198,104.5 215,133.5 219,140.5 239,174.5 259,199.5 260,201.5 281,228.5 300,251.5 299,251.5 280,228.5 259,201.5 258,199.5 238,174.5 218,140.5 214,133.5 197,104.5 176,57.5ZM299.5,251 300.5,252 300.5,253 299.5,252ZM301,252.5 322,275.5 321,275.5 300,252.5ZM321.5,275 339.5,292 342.5,295 362.5,315 376.5,328 383.5,334 404.5,352 412.5,358 424.5,369 445.5,385 466.5,401 477.5,410 486.5,417 507.5,431 528.5,446 535.5,451 548.5,461 561.5,470 569.5,475 586.5,487 590.5,490 608.5,503 610.5,504 629.5,517 631.5,519 647.5,531 652.5,534 664.5,544 672.5,551 680.5,557 693.5,568 694.5,569 706.5,580 714.5,586 718.5,590 718.5,591 714.5,587 706.5,581 694.5,570 693.5,569 680.5,558 672.5,552 664.5,545 652.5,535 647.5,532 631.5,520 629.5,518 610.5,505 608.5,504 590.5,491 586.5,488 569.5,476 561.5,471 548.5,462 535.5,452 528.5,447 507.5,432 486.5,418 477.5,411 466.5,402 445.5,386 424.5,370 412.5,359 404.5,353 383.5,335 376.5,329 362.5,316 342.5,296 339.5,293 321.5,276ZM719,590.5 729,601.5 728,601.5 718,590.5ZM728.5,601 734.5,607 737.5,610 737.5,611 734.5,608 728.5,602ZM738,610.5 746,620.5 754,629.5 753,629.5 745,620.5 737,610.5ZM753.5,629 755.5,631 755.5,632 753.5,630ZM756,631.5 761,637.5 767,646.5 773,654.5 777,659.5 778,662.5 783,669.5 788,676.5 792,683.5 796,690.5 797,692.5 800,697.5 803,703.5 806,710.5 809,716.5 812,722.5 814,727.5 817,733.5 818,735.5 819,739.5 821,744.5 823,749.5 825,754.5 827,760.5 829,764.5 831,769.5 832,774.5 834,779.5 836,783.5 837,788.5 839,792.5 840,796.5 841,801.5 840,801.5 839,796.5 838,792.5 836,788.5 835,783.5 833,779.5 831,774.5 830,769.5 828,764.5 826,760.5 824,754.5 822,749.5 820,744.5 818,739.5 817,735.5 816,733.5 813,727.5 811,722.5 808,716.5 805,710.5 802,703.5 799,697.5 796,692.5 795,690.5 791,683.5 787,676.5 782,669.5 777,662.5 776,659.5 772,654.5 766,646.5 760,637.5 755,631.5ZM238,49h1v1h-1ZM362,230h1v1h-1ZM383,250h1v1h-1ZM383,251h1v1h-1ZM755,549h1v1h-1ZM773,569h1v1h-1ZM776,571h1v1h-1ZM816,629h1v1h-1ZM817,629h1v1h-1ZM837,669h1v1h-1ZM838,670h1v1h-1ZM858,726h1v1h-1ZM859,727h1v1h-1ZM877,801h1v1h-1ZM239,49.5 260,91.5 281,124.5 287,133.5 301,155.5 322,182.5 337,199.5 343,206.5 363,230.5 362,230.5 342,206.5 336,199.5 321,182.5 300,155.5 286,133.5 280,124.5 259,91.5 238,49.5ZM362.5,230 383.5,250 383.5,251 362.5,231ZM384,250.5 384,251.5 383,251.5 383,250.5ZM383.5,251 404.5,271 424.5,290 427.5,292 445.5,309 466.5,326 468.5,328 486.5,343 507.5,358 528.5,374 543.5,385 548.5,389 569.5,404 577.5,410 590.5,419 607.5,431 610.5,433 631.5,448 635.5,451 652.5,463 661.5,470 672.5,478 683.5,487 693.5,494 703.5,503 714.5,511 721.5,517 734.5,529 737.5,531 750.5,544 755.5,549 755.5,550 750.5,545 737.5,532 734.5,530 721.5,518 714.5,512 703.5,504 693.5,495 683.5,488 672.5,479 661.5,471 652.5,464 635.5,452 631.5,449 610.5,434 607.5,432 590.5,420 577.5,411 569.5,405 548.5,390 543.5,386 528.5,375 507.5,359 486.5,344 468.5,329 466.5,327 445.5,310 427.5,293 424.5,291 404.5,272 383.5,252ZM756,549.5 763,557.5 774,569.5 773,569.5 762,557.5 755,549.5ZM773.5,569 776.5,571 776.5,572 773.5,570ZM777,571.5 783,580.5 792,590.5 797,598.5 799,601.5 806,610.5 812,620.5 817,629.5 816,629.5 811,620.5 805,610.5 798,601.5 796,598.5 791,590.5 782,580.5 776,571.5ZM816.5,629 817.5,629 817.5,630 816.5,630ZM818,629.5 822,637.5 827,646.5 831,654.5 835,662.5 838,669.5 837,669.5 834,662.5 830,654.5 826,646.5 821,637.5 817,629.5ZM837.5,669 838.5,670 838.5,671 837.5,670ZM839,670.5 841,676.5 844,683.5 847,690.5 849,697.5 851,703.5 854,710.5 856,716.5 858,722.5 859,726.5 858,726.5 857,722.5 855,716.5 853,710.5 850,703.5 848,697.5 846,690.5 843,683.5 840,676.5 838,670.5ZM858.5,726 859.5,727 859.5,728 858.5,727ZM860,727.5 861,733.5 863,739.5 864,744.5 866,749.5 867,754.5 868,760.5 870,764.5 871,769.5 872,774.5 873,779.5 874,783.5 875,788.5 876,792.5 877,796.5 878,801.5 877,801.5 876,796.5 875,792.5 874,788.5 873,783.5 872,779.5 871,774.5 870,769.5 869,764.5 867,760.5 866,754.5 865,749.5 863,744.5 862,739.5 860,733.5 859,727.5ZM300,43h1v1h-1ZM404,188h1v1h-1ZM415,199h1v1h-1ZM424,210h1v1h-1ZM466,249h1v1h-1ZM467,251h1v1h-1ZM776,494h1v1h-1ZM784,503h1v1h-1ZM798,517h1v1h-1ZM837,569h1v1h-1ZM838,570h1v1h-1ZM908,801h1v1h-1ZM301,43.5 322,81.5 343,112.5 360,133.5 363,138.5 384,165.5 405,188.5 404,188.5 383,165.5 362,138.5 359,133.5 342,112.5 321,81.5 300,43.5ZM404.5,188 415.5,199 415.5,200 404.5,189ZM416,199.5 425,210.5 424,210.5 415,199.5ZM424.5,210 445.5,231 466.5,249 466.5,250 445.5,232 424.5,211ZM467,249.5 468,251.5 467,251.5 466,249.5ZM467.5,251 486.5,269 507.5,286 515.5,292 528.5,303 548.5,319 560.5,328 569.5,335 590.5,350 601.5,358 610.5,365 631.5,380 638.5,385 652.5,395 672.5,410 693.5,425 701.5,431 714.5,441 727.5,451 734.5,457 749.5,470 755.5,475 768.5,487 776.5,494 776.5,495 768.5,488 755.5,476 749.5,471 734.5,458 727.5,452 714.5,442 701.5,432 693.5,426 672.5,411 652.5,396 638.5,386 631.5,381 610.5,366 601.5,359 590.5,351 569.5,336 560.5,329 548.5,320 528.5,304 515.5,293 507.5,287 486.5,270 467.5,252ZM777,494.5 785,503.5 784,503.5 776,494.5ZM784.5,503 796.5,515 798.5,517 798.5,518 796.5,516 784.5,504ZM799,517.5 811,531.5 818,540.5 821,544.5 830,557.5 838,569.5 837,569.5 829,557.5 820,544.5 817,540.5 810,531.5 798,517.5ZM837.5,569 838.5,570 838.5,571 837.5,570ZM839,570.5 844,580.5 850,590.5 855,601.5 859,608.5 860,610.5 864,620.5 868,629.5 871,637.5 874,646.5 877,654.5 880,661.5 880,662.5 882,669.5 884,676.5 886,683.5 888,690.5 890,697.5 891,703.5 893,710.5 894,716.5 896,722.5 897,727.5 898,733.5 899,739.5 900,744.5 901,746.5 901,749.5 902,754.5 903,760.5 904,764.5 904,769.5 905,774.5 906,779.5 907,783.5 907,788.5 908,792.5 909,796.5 909,801.5 908,801.5 908,796.5 907,792.5 906,788.5 906,783.5 905,779.5 904,774.5 903,769.5 903,764.5 902,760.5 901,754.5 900,749.5 900,746.5 899,744.5 898,739.5 897,733.5 896,727.5 895,722.5 893,716.5 892,710.5 890,703.5 889,697.5 887,690.5 885,683.5 883,676.5 881,669.5 879,662.5 879,661.5 876,654.5 873,646.5 870,637.5 867,629.5 863,620.5 859,610.5 858,608.5 854,601.5 849,590.5 843,580.5 838,570.5ZM364,40h1v1h-1ZM424,126h1v1h-1ZM431,133h1v1h-1ZM466,173h1v1h-1ZM494,199h1v1h-1ZM507,213h1v1h-1ZM817,462h1v1h-1ZM935,801h1v1h-1ZM365,40.5 384,73.5 405,102.5 425,126.5 424,126.5 404,102.5 383,73.5 364,40.5ZM424.5,126 431.5,133 431.5,134 424.5,127ZM432,133.5 446,150.5 467,173.5 466,173.5 445,150.5 431,133.5ZM466.5,173 486.5,193 494.5,199 494.5,200 486.5,194 466.5,174ZM495,199.5 508,213.5 507,213.5 494,199.5ZM507.5,213 528.5,232 548.5,249 551.5,251 569.5,266 590.5,283 603.5,292 610.5,298 631.5,314 650.5,328 652.5,329 672.5,345 692.5,358 693.5,359 714.5,375 728.5,385 734.5,390 755.5,406 759.5,410 776.5,423 785.5,431 796.5,442 806.5,451 817.5,462 817.5,463 806.5,452 796.5,443 785.5,432 776.5,424 759.5,411 755.5,407 734.5,391 728.5,386 714.5,376 693.5,360 692.5,359 672.5,346 652.5,330 650.5,329 631.5,315 610.5,299 603.5,293 590.5,284 569.5,267 551.5,252 548.5,250 528.5,233 507.5,214ZM818,462.5 825,470.5 839,486.5 839,487.5 851,503.5 859,514.5 861,517.5 870,531.5 877,544.5 880,549.5 883,557.5 889,569.5 893,580.5 897,590.5 901,599.5 901,601.5 904,610.5 907,620.5 909,629.5 911,637.5 914,646.5 915,654.5 917,662.5 919,669.5 920,676.5 921,682.5 921,683.5 923,690.5 924,697.5 925,703.5 926,710.5 926,716.5 927,722.5 928,727.5 929,733.5 929,739.5 930,744.5 931,749.5 931,754.5 932,760.5 932,764.5 933,769.5 933,774.5 934,779.5 934,783.5 935,788.5 935,792.5 936,796.5 936,801.5 935,801.5 935,796.5 934,792.5 934,788.5 933,783.5 933,779.5 932,774.5 932,769.5 931,764.5 931,760.5 930,754.5 930,749.5 929,744.5 928,739.5 928,733.5 927,727.5 926,722.5 925,716.5 925,710.5 924,703.5 923,697.5 922,690.5 920,683.5 920,682.5 919,676.5 918,669.5 916,662.5 914,654.5 913,646.5 910,637.5 908,629.5 906,620.5 903,610.5 900,601.5 900,599.5 896,590.5 892,580.5 888,569.5 882,557.5 879,549.5 876,544.5 869,531.5 860,517.5 858,514.5 850,503.5 838,487.5 838,486.5 824,470.5 817,462.5ZM428,40h1v1h-1ZM486,117h1v1h-1ZM504,133h1v1h-1ZM528,160h1v1h-1ZM838,412h1v1h-1ZM958,801h1v1h-1ZM429,40.5 446,67.5 467,94.5 487,117.5 486,117.5 466,94.5 445,67.5 428,40.5ZM486.5,117 504.5,133 504.5,134 486.5,118ZM505,133.5 508,137.5 529,160.5 528,160.5 507,137.5 504,133.5ZM528.5,160 548.5,180 569.5,197 572.5,199 590.5,216 610.5,233 631.5,248 634.5,251 652.5,265 672.5,281 689.5,292 693.5,296 714.5,311 734.5,326 736.5,328 755.5,342 776.5,358 796.5,375 809.5,385 817.5,393 835.5,410 838.5,412 838.5,413 835.5,411 817.5,394 809.5,386 796.5,376 776.5,359 755.5,343 736.5,329 734.5,327 714.5,312 693.5,297 689.5,293 672.5,282 652.5,266 634.5,252 631.5,249 610.5,234 590.5,217 572.5,200 569.5,198 548.5,181 528.5,161ZM839,412.5 856,431.5 859,435.5 873,451.5 880,461.5 886,470.5 896,487.5 901,494.5 905,503.5 912,517.5 918,531.5 921,540.5 923,544.5 927,557.5 930,569.5 933,580.5 936,590.5 938,601.5 940,610.5 942,618.5 942,620.5 944,629.5 945,637.5 946,646.5 947,654.5 948,662.5 949,669.5 950,676.5 951,683.5 952,690.5 952,697.5 953,703.5 953,710.5 954,716.5 954,722.5 955,727.5 955,733.5 956,739.5 956,744.5 956,749.5 957,754.5 957,760.5 957,764.5 958,769.5 958,774.5 958,779.5 958,783.5 959,788.5 959,792.5 959,796.5 959,801.5 958,801.5 958,796.5 958,792.5 958,788.5 957,783.5 957,779.5 957,774.5 957,769.5 956,764.5 956,760.5 956,754.5 955,749.5 955,744.5 955,739.5 954,733.5 954,727.5 953,722.5 953,716.5 952,710.5 952,703.5 951,697.5 951,690.5 950,683.5 949,676.5 948,669.5 947,662.5 946,654.5 945,646.5 944,637.5 943,629.5 941,620.5 941,618.5 939,610.5 937,601.5 935,590.5 932,580.5 929,569.5 926,557.5 922,544.5 920,540.5 917,531.5 911,517.5 904,503.5 900,494.5 895,487.5 885,470.5 879,461.5 872,451.5 858,435.5 855,431.5 838,412.5ZM507,61h1v1h-1ZM548,109h1v1h-1ZM576,133h1v1h-1ZM590,148h1v1h-1ZM879,386h1v1h-1ZM898,410h1v1h-1ZM900,411h1v1h-1ZM979,801h1v1h-1ZM508,61.5 529,87.5 549,109.5 548,109.5 528,87.5 507,61.5ZM548.5,109 569.5,127 576.5,133 576.5,134 569.5,128 548.5,110ZM577,133.5 591,148.5 590,148.5 576,133.5ZM590.5,148 610.5,167 631.5,185 650.5,199 652.5,200 672.5,218 693.5,234 714.5,249 716.5,251 734.5,265 755.5,281 771.5,292 776.5,296 796.5,312 816.5,328 817.5,328 838.5,346 851.5,358 858.5,365 878.5,385 879.5,386 879.5,387 878.5,386 858.5,366 851.5,359 838.5,347 817.5,329 816.5,329 796.5,313 776.5,297 771.5,293 755.5,282 734.5,266 716.5,252 714.5,250 693.5,235 672.5,219 652.5,201 650.5,200 631.5,186 610.5,168 590.5,149ZM880,386.5 899,410.5 898,410.5 879,386.5ZM898.5,410 900.5,411 900.5,412 898.5,411ZM901,411.5 914,431.5 921,443.5 926,451.5 935,470.5 942,485.5 943,487.5 948,503.5 953,517.5 957,531.5 960,544.5 963,556.5 963,557.5 965,569.5 967,580.5 968,590.5 970,601.5 971,610.5 972,620.5 973,629.5 973,637.5 974,646.5 975,654.5 975,662.5 976,669.5 976,676.5 976,683.5 977,690.5 977,697.5 977,703.5 978,710.5 978,716.5 978,722.5 978,727.5 978,733.5 978,739.5 979,744.5 979,749.5 979,754.5 979,760.5 979,764.5 979,769.5 979,774.5 979,779.5 980,783.5 980,788.5 980,792.5 980,796.5 980,801.5 979,801.5 979,796.5 979,792.5 979,788.5 979,783.5 978,779.5 978,774.5 978,769.5 978,764.5 978,760.5 978,754.5 978,749.5 978,744.5 977,739.5 977,733.5 977,727.5 977,722.5 977,716.5 977,710.5 976,703.5 976,697.5 976,690.5 975,683.5 975,676.5 975,669.5 974,662.5 974,654.5 973,646.5 972,637.5 972,629.5 971,620.5 970,610.5 969,601.5 967,590.5 966,580.5 964,569.5 962,557.5 962,556.5 959,544.5 956,531.5 952,517.5 947,503.5 942,487.5 941,485.5 934,470.5 925,451.5 920,443.5 913,431.5 900,411.5ZM569,56h1v1h-1ZM590,81h1v1h-1ZM900,341h1v1h-1ZM997,801h1v1h-1ZM570,56.5 591,81.5 590,81.5 569,56.5ZM590.5,81 610.5,101 631.5,120 648.5,133 652.5,137 672.5,156 693.5,174 714.5,189 728.5,199 734.5,205 755.5,222 776.5,237 795.5,251 796.5,252 817.5,269 838.5,285 848.5,292 858.5,302 879.5,321 887.5,328 900.5,341 900.5,342 887.5,329 879.5,322 858.5,303 848.5,293 838.5,286 817.5,270 796.5,253 795.5,252 776.5,238 755.5,223 734.5,206 728.5,200 714.5,190 693.5,175 672.5,157 652.5,138 648.5,134 631.5,121 610.5,102 590.5,82ZM901,341.5 916,358.5 921,365.5 936,385.5 942,394.5 951,410.5 962,431.5 963,433.5 970,451.5 976,470.5 981,487.5 983,497.5 984,503.5 987,517.5 989,531.5 991,544.5 993,557.5 994,569.5 995,580.5 996,590.5 996,601.5 997,610.5 997,620.5 998,629.5 998,637.5 998,646.5 998,654.5 998,662.5 999,669.5 999,676.5 999,683.5 999,690.5 999,697.5 999,703.5 999,710.5 999,716.5 999,722.5 999,727.5 999,733.5 998,739.5 998,744.5 998,749.5 998,754.5 998,760.5 998,764.5 998,769.5 998,774.5 998,779.5 998,783.5 998,788.5 998,792.5 998,796.5 998,801.5 997,801.5 997,796.5 997,792.5 997,788.5 997,783.5 997,779.5 997,774.5 997,769.5 997,764.5 997,760.5 997,754.5 997,749.5 997,744.5 997,739.5 998,733.5 998,727.5 998,722.5 998,716.5 998,710.5 998,703.5 998,697.5 998,690.5 998,683.5 998,676.5 998,669.5 997,662.5 997,654.5 997,646.5 997,637.5 997,629.5 996,620.5 996,610.5 995,601.5 995,590.5 994,580.5 993,569.5 992,557.5 990,544.5 988,531.5 986,517.5 983,503.5 982,497.5 980,487.5 975,470.5 969,451.5 962,433.5 961,431.5 950,410.5 941,394.5 935,385.5 920,365.5 915,358.5 900,341.5ZM631,52h1v1h-1ZM652,75h1v1h-1ZM915,292h1v1h-1ZM982,385h1v1h-1ZM983,385h1v1h-1ZM1013,801h1v1h-1ZM632,52.5 653,75.5 652,75.5 631,52.5ZM652.5,75 672.5,95 693.5,113 714.5,129 720.5,133 734.5,146 755.5,164 776.5,180 796.5,195 804.5,199 817.5,211 838.5,227 858.5,243 869.5,251 879.5,260 900.5,278 915.5,292 915.5,293 900.5,279 879.5,261 869.5,252 858.5,244 838.5,228 817.5,212 804.5,200 796.5,196 776.5,181 755.5,165 734.5,147 720.5,134 714.5,130 693.5,114 672.5,96 652.5,76ZM916,292.5 921,298.5 942,321.5 948,328.5 963,349.5 969,358.5 983,385.5 982,385.5 968,358.5 962,349.5 947,328.5 941,321.5 920,298.5 915,292.5ZM982.5,385 983.5,385 983.5,386 982.5,386ZM984,385.5 993,410.5 1001,431.5 1004,443.5 1006,451.5 1010,470.5 1012,487.5 1014,503.5 1016,517.5 1017,531.5 1018,544.5 1019,557.5 1019,569.5 1019,580.5 1020,590.5 1020,601.5 1020,610.5 1020,620.5 1019,629.5 1019,637.5 1019,646.5 1019,654.5 1019,662.5 1019,669.5 1018,676.5 1018,683.5 1018,690.5 1018,697.5 1018,703.5 1017,710.5 1017,716.5 1017,722.5 1017,727.5 1016,733.5 1016,739.5 1016,744.5 1016,749.5 1016,754.5 1016,760.5 1015,764.5 1015,769.5 1015,774.5 1015,779.5 1015,783.5 1015,788.5 1015,792.5 1014,796.5 1014,801.5 1013,801.5 1013,796.5 1014,792.5 1014,788.5 1014,783.5 1014,779.5 1014,774.5 1014,769.5 1014,764.5 1015,760.5 1015,754.5 1015,749.5 1015,744.5 1015,739.5 1015,733.5 1016,727.5 1016,722.5 1016,716.5 1016,710.5 1017,703.5 1017,697.5 1017,690.5 1017,683.5 1017,676.5 1018,669.5 1018,662.5 1018,654.5 1018,646.5 1018,637.5 1018,629.5 1019,620.5 1019,610.5 1019,601.5 1019,590.5 1018,580.5 1018,569.5 1018,557.5 1017,544.5 1016,531.5 1015,517.5 1013,503.5 1011,487.5 1009,470.5 1005,451.5 1003,443.5 1000,431.5 992,410.5 983,385.5ZM693,49h1v1h-1ZM714,71h1v1h-1ZM792,133h1v1h-1ZM796,138h1v1h-1ZM941,257h1v1h-1ZM1028,801h1v1h-1ZM694,49.5 715,71.5 714,71.5 693,49.5ZM714.5,71 734.5,90 755.5,107 776.5,122 792.5,133 792.5,134 776.5,123 755.5,108 734.5,91 714.5,72ZM793,133.5 797,138.5 796,138.5 792,133.5ZM796.5,138 817.5,156 838.5,172 858.5,187 876.5,199 879.5,202 900.5,221 920.5,238 935.5,251 941.5,257 941.5,258 935.5,252 920.5,239 900.5,222 879.5,203 876.5,200 858.5,188 838.5,173 817.5,157 796.5,139ZM942,257.5 963,280.5 974,292.5 983,306.5 997,328.5 1004,340.5 1012,358.5 1022,385.5 1025,393.5 1029,410.5 1033,431.5 1036,451.5 1038,470.5 1040,487.5 1040,503.5 1041,517.5 1041,531.5 1041,544.5 1041,557.5 1041,569.5 1041,580.5 1040,590.5 1040,601.5 1040,610.5 1039,620.5 1039,629.5 1038,637.5 1038,646.5 1037,654.5 1037,662.5 1036,669.5 1036,676.5 1036,683.5 1035,690.5 1035,697.5 1034,703.5 1034,710.5 1034,716.5 1033,722.5 1033,727.5 1033,733.5 1032,739.5 1032,744.5 1032,749.5 1031,754.5 1031,760.5 1031,764.5 1031,769.5 1030,774.5 1030,779.5 1030,783.5 1030,788.5 1030,792.5 1029,796.5 1029,801.5 1028,801.5 1028,796.5 1029,792.5 1029,788.5 1029,783.5 1029,779.5 1029,774.5 1030,769.5 1030,764.5 1030,760.5 1030,754.5 1031,749.5 1031,744.5 1031,739.5 1032,733.5 1032,727.5 1032,722.5 1033,716.5 1033,710.5 1033,703.5 1034,697.5 1034,690.5 1035,683.5 1035,676.5 1035,669.5 1036,662.5 1036,654.5 1037,646.5 1037,637.5 1038,629.5 1038,620.5 1039,610.5 1039,601.5 1039,590.5 1040,580.5 1040,569.5 1040,557.5 1040,544.5 1040,531.5 1040,517.5 1039,503.5 1039,487.5 1037,470.5 1035,451.5 1032,431.5 1028,410.5 1024,393.5 1021,385.5 1011,358.5 1003,340.5 996,328.5 982,306.5 973,292.5 962,280.5 941,257.5ZM755,46h1v1h-1ZM962,219h1v1h-1ZM1042,801h1v1h-1ZM755.5,46 776.5,67 796.5,85 817.5,102 838.5,117 858.5,131 862.5,133 879.5,149 900.5,166 920.5,183 941.5,198 942.5,199 962.5,219 962.5,220 942.5,200 941.5,199 920.5,184 900.5,167 879.5,150 862.5,134 858.5,132 838.5,118 817.5,103 796.5,86 776.5,68 755.5,47ZM963,219.5 983,240.5 993,251.5 1004,266.5 1022,292.5 1025,297.5 1039,328.5 1045,346.5 1049,358.5 1055,385.5 1059,410.5 1061,431.5 1062,451.5 1063,470.5 1063,487.5 1063,503.5 1063,517.5 1062,531.5 1062,544.5 1061,557.5 1060,569.5 1059,580.5 1059,590.5 1058,601.5 1057,610.5 1056,620.5 1056,629.5 1055,637.5 1054,646.5 1054,654.5 1053,662.5 1052,669.5 1052,676.5 1051,683.5 1051,690.5 1050,697.5 1050,703.5 1049,710.5 1049,716.5 1048,722.5 1048,727.5 1047,733.5 1047,739.5 1047,744.5 1046,749.5 1046,754.5 1046,760.5 1045,764.5 1045,766.5 1045,769.5 1045,774.5 1044,779.5 1044,783.5 1044,788.5 1043,792.5 1043,796.5 1043,801.5 1042,801.5 1042,796.5 1042,792.5 1043,788.5 1043,783.5 1043,779.5 1044,774.5 1044,769.5 1044,766.5 1044,764.5 1045,760.5 1045,754.5 1045,749.5 1046,744.5 1046,739.5 1046,733.5 1047,727.5 1047,722.5 1048,716.5 1048,710.5 1049,703.5 1049,697.5 1050,690.5 1050,683.5 1051,676.5 1051,669.5 1052,662.5 1053,654.5 1053,646.5 1054,637.5 1055,629.5 1055,620.5 1056,610.5 1057,601.5 1058,590.5 1058,580.5 1059,569.5 1060,557.5 1061,544.5 1061,531.5 1062,517.5 1062,503.5 1062,487.5 1062,470.5 1061,451.5 1060,431.5 1058,410.5 1054,385.5 1048,358.5 1044,346.5 1038,328.5 1024,297.5 1021,292.5 1003,266.5 992,251.5 982,240.5 962,219.5ZM817,43h1v1h-1ZM1003,201h1v1h-1ZM1054,801h1v1h-1ZM817.5,43 838.5,64 858.5,82 879.5,99 900.5,114 920.5,128 928.5,133 941.5,145 962.5,164 982.5,183 1001.5,199 1003.5,201 1003.5,202 1001.5,200 982.5,184 962.5,165 941.5,146 928.5,134 920.5,129 900.5,115 879.5,100 858.5,83 838.5,65 817.5,44ZM1004,201.5 1025,228.5 1042,251.5 1045,257.5 1062,292.5 1066,303.5 1073,328.5 1079,358.5 1083,385.5 1084,410.5 1085,431.5 1085,451.5 1084,470.5 1084,487.5 1083,503.5 1082,517.5 1081,531.5 1079,544.5 1078,557.5 1077,569.5 1076,580.5 1075,590.5 1074,601.5 1073,610.5 1072,620.5 1071,629.5 1070,637.5 1069,646.5 1069,654.5 1068,662.5 1067,669.5 1066,676.5 1066,683.5 1065,690.5 1064,697.5 1064,703.5 1063,710.5 1062,716.5 1062,722.5 1061,727.5 1061,733.5 1060,739.5 1060,744.5 1059,749.5 1059,754.5 1058,760.5 1058,764.5 1057,769.5 1057,774.5 1057,779.5 1056,783.5 1056,788.5 1055,792.5 1055,796.5 1055,801.5 1054,801.5 1054,796.5 1054,792.5 1055,788.5 1055,783.5 1056,779.5 1056,774.5 1056,769.5 1057,764.5 1057,760.5 1058,754.5 1058,749.5 1059,744.5 1059,739.5 1060,733.5 1060,727.5 1061,722.5 1061,716.5 1062,710.5 1063,703.5 1063,697.5 1064,690.5 1065,683.5 1065,676.5 1066,669.5 1067,662.5 1068,654.5 1068,646.5 1069,637.5 1070,629.5 1071,620.5 1072,610.5 1073,601.5 1074,590.5 1075,580.5 1076,569.5 1077,557.5 1078,544.5 1080,531.5 1081,517.5 1082,503.5 1083,487.5 1083,470.5 1084,451.5 1084,431.5 1083,410.5 1082,385.5 1078,358.5 1072,328.5 1065,303.5 1061,292.5 1044,257.5 1041,251.5 1024,228.5 1003,201.5ZM1086,620h1v1h-1ZM1065,801h1v1h-1ZM1087,620.5 1085,629.5 1084,637.5 1083,646.5 1082,654.5 1081,662.5 1080,669.5 1079,676.5 1078,683.5 1077,690.5 1077,697.5 1076,703.5 1075,710.5 1075,716.5 1074,722.5 1073,727.5 1073,733.5 1072,739.5 1072,744.5 1071,749.5 1070,754.5 1070,760.5 1070,764.5 1069,769.5 1069,774.5 1068,779.5 1068,783.5 1068,788.5 1067,792.5 1067,796.5 1066,801.5 1065,801.5 1066,796.5 1066,792.5 1067,788.5 1067,783.5 1067,779.5 1068,774.5 1068,769.5 1069,764.5 1069,760.5 1069,754.5 1070,749.5 1071,744.5 1071,739.5 1072,733.5 1072,727.5 1073,722.5 1074,716.5 1074,710.5 1075,703.5 1076,697.5 1076,690.5 1077,683.5 1078,676.5 1079,669.5 1080,662.5 1081,654.5 1082,646.5 1083,637.5 1084,629.5 1086,620.5ZM879,42h1v1h-1ZM991,133h1v1h-1ZM1044,191h1v1h-1ZM1052,199h1v1h-1ZM1086,263h1v1h-1ZM879.5,42 900.5,62 920.5,80 941.5,97 962.5,112 982.5,127 991.5,133 991.5,134 982.5,128 962.5,113 941.5,98 920.5,81 900.5,63 879.5,43ZM992,133.5 1004,147.5 1025,169.5 1045,191.5 1044,191.5 1024,169.5 1003,147.5 991,133.5ZM1044.5,191 1052.5,199 1052.5,200 1044.5,192ZM1053,199.5 1066,221.5 1082,251.5 1087,263.5 1086,263.5 1081,251.5 1065,221.5 1052,199.5ZM1086,714h1v1h-1ZM1076,801h1v1h-1ZM1087,714.5 1086,716.5 1085,722.5 1085,727.5 1084,733.5 1083,739.5 1083,744.5 1082,749.5 1081,754.5 1081,760.5 1080,764.5 1080,769.5 1079,774.5 1079,779.5 1078,783.5 1078,788.5 1077,792.5 1077,796.5 1077,801.5 1076,801.5 1076,796.5 1076,792.5 1077,788.5 1077,783.5 1078,779.5 1078,774.5 1079,769.5 1079,764.5 1080,760.5 1080,754.5 1081,749.5 1082,744.5 1082,739.5 1083,733.5 1084,727.5 1084,722.5 1085,716.5 1086,714.5ZM962,61h1v1h-1ZM1046,133h1v1h-1ZM1086,186h1v1h-1ZM962.5,61 982.5,80 1003.5,98 1024.5,115 1044.5,132 1046.5,133 1046.5,134 1044.5,133 1024.5,116 1003.5,99 982.5,81 962.5,62ZM1047,133.5 1066,158.5 1087,186.5 1086,186.5 1065,158.5 1046,133.5ZM1003,43h1v1h-1ZM1086,124h1v1h-1ZM1003.5,43 1024.5,64 1044.5,84 1065.5,104 1086.5,124 1086.5,125 1065.5,105 1044.5,85 1024.5,65 1003.5,44ZM1065,49h1v1h-1ZM1086,73h1v1h-1ZM1066,49.5 1087,73.5 1086,73.5 1065,49.5Z"/>
</g>
<g clip-path="url(#ax)" fill="none" stroke="#000" stroke-width="4.3" shape-rendering="crispEdges" stroke-linejoin="round">
<polyline points="952.0,65.0 947.0,68.7 916.7,80.6 877.7,97.9 840.8,115.3 795.0,136.3 771.7,147.5 748.3,158.6 721.5,171.8 705.2,183.5 688.5,195.3 666.7,213.3 646.7,229.2 623.3,246.7 606.7,263.3 596.7,275.0 586.7,288.3 580.5,301.0 573.3,316.7 565.0,333.3 559.2,350.0 555.0,366.7 553.3,383.3 553.3,400.0 554.5,413.3 557.5,425.0 562.6,435.0 574.0,449.0 589.8,466.8 609.3,486.3 631.0,508.0 657.0,530.8 678.7,549.2 700.3,568.7 722.0,588.2 738.0,600.5 754.4,614.4 768.9,628.9 778.9,642.2 787.8,655.6 794.4,668.9 803.3,681.1 812.2,693.3 818.9,705.6 822.7,716.7 824.4,728.9 826.9,742.2 828.7,758.6 833.3,763.6 839.2,769.2 846.8,775.8"/>
<path d="M653.0,65.0 649.0,68.4 648.3,69.0M643.9,72.8 634.3,80.8M629.9,84.5 620.3,92.5M615.9,96.2 609.0,102.0 606.3,104.3M601.9,108.1 592.3,116.3M587.9,120.1 578.3,128.3M574.0,132.0 564.4,140.6M560.1,144.5 550.5,153.0M546.1,156.9 536.6,165.5M532.2,169.1 522.7,177.0M518.3,180.7 508.8,188.6M504.4,192.2 495.0,200.0 494.9,200.1M490.8,204.5 481.8,214.2M477.7,218.7 476.5,220.0 469.4,228.4M465.6,232.8 459.5,240.0 457.6,242.5M454.2,247.0 446.8,256.7M443.8,261.1 438.5,270.8M436.1,275.3 436.0,275.5 433.1,285.0M431.7,289.4 430.9,292.0 430.5,299.1M430.3,303.6 430.0,310.0 430.3,313.3M430.8,317.7 431.7,327.4M432.2,331.9 432.4,334.0 433.9,341.6M434.8,346.0 436.6,355.0 436.8,355.7M438.2,360.2 441.1,369.9M442.7,374.2 447.6,383.4M449.9,387.6 452.5,392.5 455.7,396.9M458.7,401.1 464.5,409.0 465.8,410.1M470.0,413.5 479.2,421.1M483.5,424.4 493.1,431.6M497.5,434.9 499.0,436.0 507.1,442.8M511.5,446.4 517.0,451.0 521.1,454.4M525.5,458.1 535.1,466.0M539.5,469.7 540.0,470.1 549.1,477.7M553.5,481.3 563.1,488.8M567.5,492.3 568.2,492.8 577.1,500.5M581.5,504.3 583.3,505.8 591.1,512.3M595.5,516.0 596.3,516.7 603.9,524.3 604.4,525.5M606.4,529.9 608.3,534.0 608.6,539.5M608.9,543.9 609.3,551.3 607.4,553.5M603.6,557.9 601.8,560.0 596.5,567.5M593.4,571.9 586.9,581.3M582.9,584.9 576.8,590.3 574.6,593.1M571.3,597.2 569.5,599.5 569.6,605.0 569.2,606.1M568.0,610.2 567.5,611.7 560.7,619.1M556.8,622.9 548.3,630.0 547.9,630.3M543.9,633.9 541.7,635.8 540.8,641.7 540.5,642.9M539.6,647.4 538.3,653.3 537.8,657.2M537.3,661.6 537.2,662.5 541.7,670.0 542.4,670.8M546.1,674.9 550.0,679.2 554.6,682.1M558.9,684.8 563.3,687.5 568.3,690.5M572.6,693.2 578.3,696.7 582.1,698.6M586.5,700.7 591.7,703.3 596.1,705.3M600.5,707.2 606.7,710.0 610.1,711.3M614.5,712.9 620.0,715.0 624.1,716.6M628.5,718.3 635.0,720.8 638.1,721.7M642.5,723.1 650.0,725.3 652.1,726.0M656.5,727.3 665.0,730.0 666.1,730.4M670.5,731.8 678.3,734.2 680.2,734.7M684.6,735.9 693.3,738.3 694.2,738.6M698.6,739.9 706.7,742.5 708.2,742.9M712.6,744.2 720.0,746.3 722.2,747.2M726.6,748.9 733.3,751.6 736.2,752.8M740.6,754.6 750.2,758.5M754.6,760.4 764.2,764.5M768.6,766.5 778.2,770.8M782.6,773.8 784.4,775.1"/>
</g>
<g shape-rendering="crispEdges" stroke="#000" stroke-width="1" fill="none">
<line x1="170" x2="1076" y1="92.5" y2="92.5" stroke-dasharray="2 3"/>
<line x1="170" x2="1076" y1="133.5" y2="133.5" stroke-dasharray="2 3"/>
<line x1="170" x2="1076" y1="169.5" y2="169.5" stroke-dasharray="2 3"/>
<line x1="170" x2="1076" y1="199.5" y2="199.5" stroke-dasharray="2 3"/>
<line x1="170" x2="1076" y1="226.5" y2="226.5" stroke-dasharray="2 3"/>
<line x1="170" x2="1076" y1="251.5" y2="251.5" stroke-dasharray="2 3"/>
<line x1="170" x2="1076" y1="410.5" y2="410.5" stroke-dasharray="2 3"/>
<line x1="170" x2="1076" y1="503.5" y2="503.5" stroke-dasharray="2 3"/>
<line x1="170" x2="1076" y1="569.5" y2="569.5" stroke-dasharray="2 3"/>
<line x1="170" x2="1076" y1="620.5" y2="620.5" stroke-dasharray="2 3"/>
<line x1="170" x2="1076" y1="662.5" y2="662.5" stroke-dasharray="2 3"/>
<line x1="170" x2="1076" y1="697.5" y2="697.5" stroke-dasharray="1 4"/>
<line x1="170" x2="1076" y1="727.5" y2="727.5" stroke-dasharray="1 4"/>
<line x1="170" x2="1076" y1="754.5" y2="754.5" stroke-dasharray="1 4"/>
<line x1="170" x2="1076" y1="779.5" y2="779.5" stroke-dasharray="1 4"/>
</g>
<g shape-rendering="crispEdges" stroke="#000" stroke-width="1" fill="none">
<rect x="156.5" y="68.5" width="930" height="733"/>
<line x1="207.5" x2="207.5" y1="791" y2="801"/>
<line x1="207.5" x2="207.5" y1="69" y2="78"/>
<line x1="311.5" x2="311.5" y1="791" y2="801"/>
<line x1="311.5" x2="311.5" y1="69" y2="78"/>
<line x1="414.5" x2="414.5" y1="791" y2="801"/>
<line x1="414.5" x2="414.5" y1="69" y2="78"/>
<line x1="517.5" x2="517.5" y1="791" y2="801"/>
<line x1="517.5" x2="517.5" y1="69" y2="78"/>
<line x1="621.5" x2="621.5" y1="791" y2="801"/>
<line x1="621.5" x2="621.5" y1="69" y2="78"/>
<line x1="724.5" x2="724.5" y1="791" y2="801"/>
<line x1="724.5" x2="724.5" y1="69" y2="78"/>
<line x1="827.5" x2="827.5" y1="791" y2="801"/>
<line x1="827.5" x2="827.5" y1="69" y2="78"/>
<line x1="931.5" x2="931.5" y1="791" y2="801"/>
<line x1="931.5" x2="931.5" y1="69" y2="78"/>
<line x1="1034.5" x2="1034.5" y1="791" y2="801"/>
<line x1="1034.5" x2="1034.5" y1="69" y2="78"/>
<line x1="157" x2="167" y1="92.5" y2="92.5"/>
<line x1="1075" x2="1086" y1="92.5" y2="92.5"/>
<line x1="157" x2="167" y1="133.5" y2="133.5"/>
<line x1="1075" x2="1086" y1="133.5" y2="133.5"/>
<line x1="157" x2="167" y1="169.5" y2="169.5"/>
<line x1="1075" x2="1086" y1="169.5" y2="169.5"/>
<line x1="157" x2="167" y1="199.5" y2="199.5"/>
<line x1="1075" x2="1086" y1="199.5" y2="199.5"/>
<line x1="157" x2="167" y1="226.5" y2="226.5"/>
<line x1="1075" x2="1086" y1="226.5" y2="226.5"/>
<line x1="157" x2="167" y1="251.5" y2="251.5"/>
<line x1="1075" x2="1086" y1="251.5" y2="251.5"/>
<line x1="157" x2="167" y1="410.5" y2="410.5"/>
<line x1="1075" x2="1086" y1="410.5" y2="410.5"/>
<line x1="157" x2="167" y1="503.5" y2="503.5"/>
<line x1="1075" x2="1086" y1="503.5" y2="503.5"/>
<line x1="157" x2="167" y1="569.5" y2="569.5"/>
<line x1="1075" x2="1086" y1="569.5" y2="569.5"/>
<line x1="157" x2="167" y1="620.5" y2="620.5"/>
<line x1="1075" x2="1086" y1="620.5" y2="620.5"/>
<line x1="157" x2="167" y1="662.5" y2="662.5"/>
<line x1="1075" x2="1086" y1="662.5" y2="662.5"/>
<line x1="157" x2="167" y1="697.5" y2="697.5"/>
<line x1="1075" x2="1086" y1="697.5" y2="697.5"/>
<line x1="157" x2="167" y1="727.5" y2="727.5"/>
<line x1="1075" x2="1086" y1="727.5" y2="727.5"/>
<line x1="157" x2="167" y1="754.5" y2="754.5"/>
<line x1="1075" x2="1086" y1="754.5" y2="754.5"/>
<line x1="157" x2="167" y1="779.5" y2="779.5"/>
<line x1="1075" x2="1086" y1="779.5" y2="779.5"/>
</g>
<g font-family="'Liberation Sans', Arial, Helvetica, sans-serif" fill="#000">
<text x="620.7" y="52" font-size="24.9" text-anchor="middle">Scanning-HIS RT-DR Mean Retrieval : 26-Sep-2012 22:12:09 - 22:13:07</text>
<g font-weight="bold" font-size="18">
<text x="203.5" y="830" text-anchor="middle">-40</text>
<text x="307.5" y="830" text-anchor="middle">-30</text>
<text x="410.5" y="830" text-anchor="middle">-20</text>
<text x="513.5" y="830" text-anchor="middle">-10</text>
<text x="621.0" y="830" text-anchor="middle">0</text>
<text x="724.0" y="830" text-anchor="middle">10</text>
<text x="827.0" y="830" text-anchor="middle">20</text>
<text x="931.0" y="830" text-anchor="middle">30</text>
<text x="1034.0" y="830" text-anchor="middle">40</text>
<text x="149.5" y="101" text-anchor="end">50</text>
<text x="149.5" y="142" text-anchor="end">60</text>
<text x="149.5" y="178" text-anchor="end">70</text>
<text x="149.5" y="208" text-anchor="end">80</text>
<text x="149.5" y="235" text-anchor="end">90</text>
<text x="149.5" y="260" text-anchor="end">100</text>
<text x="149.5" y="419" text-anchor="end">200</text>
<text x="149.5" y="512" text-anchor="end">300</text>
<text x="149.5" y="578" text-anchor="end">400</text>
<text x="149.5" y="629" text-anchor="end">500</text>
<text x="149.5" y="671" text-anchor="end">600</text>
<text x="149.5" y="706" text-anchor="end">700</text>
<text x="149.5" y="736" text-anchor="end">800</text>
<text x="149.5" y="763" text-anchor="end">900</text>
<text x="149.5" y="788" text-anchor="end">1000</text>
<text x="620" y="856" text-anchor="middle" font-size="19.6">Temperature (C)</text>
<text transform="translate(96.5,436) rotate(-90)" text-anchor="middle" font-size="19.6">Pressure (mb)</text>
<text x="1105.5" y="709">706</text>
<text x="1105.5" y="724">753</text>
<text x="1105.5" y="731">777</text>
<text x="1105.5" y="738">802</text>
<text x="1105.5" y="745">827</text>
<text x="1105.5" y="752">852</text>
<text x="1105.5" y="766">904</text>
<text x="1105.5" y="772">931</text>
</g></g>
</svg>
</body></html>
